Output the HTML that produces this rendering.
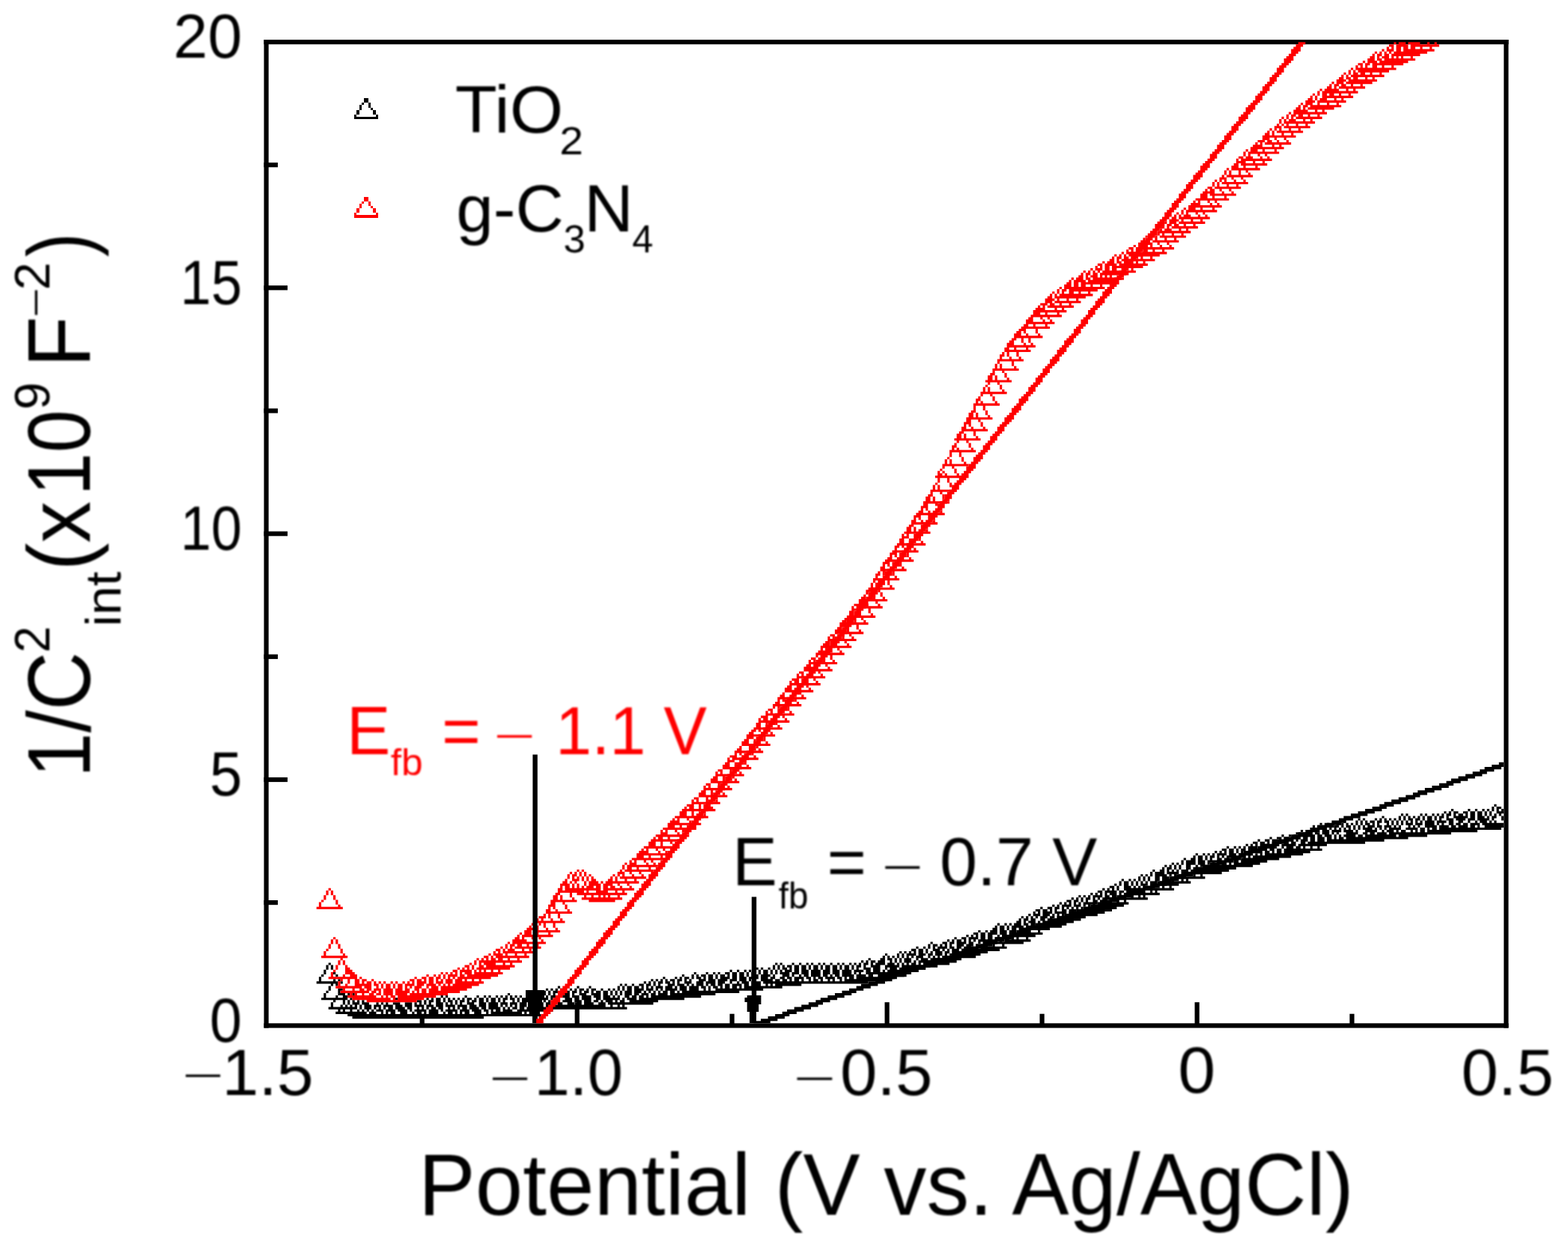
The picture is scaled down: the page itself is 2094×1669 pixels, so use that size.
<!DOCTYPE html>
<html lang="en"><head><meta charset="utf-8"><title>Mott-Schottky plot</title>
<style>html,body{margin:0;padding:0;background:#fff}body{width:2094px;height:1669px;overflow:hidden}svg{display:block}text{font-family:"Liberation Sans",sans-serif}#labels{filter:blur(0.8px)}</style></head><body>
<svg width="2094" height="1669" viewBox="0 0 2094 1669">
<rect width="2094" height="1669" fill="#fff"/>
<g id="shapes">
<g fill="#000">
<rect x="352.5" y="53.0" width="1662.0" height="6.2"/>
<rect x="352.5" y="1366.3" width="1662.0" height="6.2"/>
<rect x="352.5" y="53.0" width="6.2" height="1319.5"/>
<rect x="2008.3" y="53.0" width="6.2" height="1319.5"/>
<rect x="352.5" y="1202.0" width="18.5" height="6.2"/>
<rect x="352.5" y="1037.9" width="31.5" height="6.2"/>
<rect x="352.5" y="873.7" width="18.5" height="6.2"/>
<rect x="352.5" y="709.5" width="31.5" height="6.2"/>
<rect x="352.5" y="545.4" width="18.5" height="6.2"/>
<rect x="352.5" y="381.2" width="31.5" height="6.2"/>
<rect x="352.5" y="217.1" width="18.5" height="6.2"/>
<rect x="560.6" y="1353.7" width="6.2" height="15.8"/>
<rect x="767.6" y="1338.2" width="6.2" height="31.3"/>
<rect x="974.5" y="1353.7" width="6.2" height="15.8"/>
<rect x="1181.5" y="1338.2" width="6.2" height="31.3"/>
<rect x="1388.5" y="1353.7" width="6.2" height="15.8"/>
<rect x="1595.5" y="1338.2" width="6.2" height="31.3"/>
<rect x="1802.4" y="1353.7" width="6.2" height="15.8"/>
</g>
<g transform="translate(1.6 0.2) scale(3.19 3.112)">
<path fill="#000" d="M625 345h1v1h-1zM624 346h1v1h-1zM626 346h2v1h-2zM607 347h1v1h-1zM614 347h1v1h-1zM617 347h1v1h-1zM620 347h1v1h-1zM622 347h1v1h-1zM624 347h1v1h-1zM626 347h1v1h-1zM628 347h1v1h-1zM604 348h1v1h-1zM606 348h1v1h-1zM608 348h2v1h-2zM612 348h2v1h-2zM615 348h2v1h-2zM618 348h2v1h-2zM621 348h1v1h-1zM623 348h1v1h-1zM626 348h3v1h-3zM586 349h1v1h-1zM588 349h1v1h-1zM594 349h1v1h-1zM596 349h1v1h-1zM599 349h1v1h-1zM601 349h1v1h-1zM603 349h1v1h-1zM605 349h2v1h-2zM608 349h1v1h-1zM610 349h2v1h-2zM613 349h1v1h-1zM615 349h2v1h-2zM618 349h2v1h-2zM621 349h1v1h-1zM623 349h1v1h-1zM625 349h1v1h-1zM627 349h1v1h-1zM578 350h1v1h-1zM585 350h1v1h-1zM587 350h1v1h-1zM589 350h1v1h-1zM591 350h1v1h-1zM593 350h1v1h-1zM595 350h1v1h-1zM597 350h2v1h-2zM600 350h1v1h-1zM602 350h2v1h-2zM605 350h1v1h-1zM608 350h6v1h-6zM615 350h2v1h-2zM618 350h3v1h-3zM622 350h1v1h-1zM624 350h2v1h-2zM628 350h1v1h-1zM568 351h1v1h-1zM570 351h1v1h-1zM575 351h1v1h-1zM577 351h1v1h-1zM579 351h1v1h-1zM581 351h1v1h-1zM583 351h1v1h-1zM585 351h1v1h-1zM587 351h1v1h-1zM589 351h2v1h-2zM592 351h2v1h-2zM595 351h1v1h-1zM597 351h2v1h-2zM600 351h1v1h-1zM602 351h1v1h-1zM605 351h3v1h-3zM609 351h4v1h-4zM614 351h3v1h-3zM618 351h5v1h-5zM624 351h1v1h-1zM628 351h1v1h-1zM560 352h1v1h-1zM562 352h1v1h-1zM567 352h1v1h-1zM569 352h1v1h-1zM571 352h1v1h-1zM573 352h2v1h-2zM576 352h2v1h-2zM579 352h2v1h-2zM582 352h1v1h-1zM584 352h1v1h-1zM586 352h1v1h-1zM588 352h1v1h-1zM590 352h1v1h-1zM592 352h1v1h-1zM594 352h1v1h-1zM596 352h4v1h-4zM601 352h4v1h-4zM606 352h2v1h-2zM610 352h2v1h-2zM614 352h1v1h-1zM617 352h1v1h-1zM619 352h3v1h-3zM623 352h1v1h-1zM625 352h1v1h-1zM552 353h1v1h-1zM555 353h1v1h-1zM557 353h1v1h-1zM559 353h1v1h-1zM561 353h1v1h-1zM563 353h1v1h-1zM565 353h1v1h-1zM567 353h1v1h-1zM569 353h1v1h-1zM571 353h2v1h-2zM574 353h1v1h-1zM576 353h1v1h-1zM580 353h1v1h-1zM582 353h1v1h-1zM584 353h1v1h-1zM586 353h1v1h-1zM588 353h3v1h-3zM592 353h3v1h-3zM596 353h4v1h-4zM601 353h1v1h-1zM603 353h1v1h-1zM606 353h2v1h-2zM609 353h2v1h-2zM612 353h2v1h-2zM615 353h4v1h-4zM620 353h9v1h-9zM549 354h1v1h-1zM551 354h1v1h-1zM553 354h2v1h-2zM556 354h1v1h-1zM558 354h2v1h-2zM561 354h1v1h-1zM563 354h2v1h-2zM566 354h1v1h-1zM568 354h1v1h-1zM570 354h1v1h-1zM572 354h3v1h-3zM576 354h2v1h-2zM579 354h3v1h-3zM583 354h1v1h-1zM585 354h1v1h-1zM589 354h1v1h-1zM591 354h1v1h-1zM593 354h1v1h-1zM596 354h5v1h-5zM602 354h4v1h-4zM607 354h2v1h-2zM610 354h4v1h-4zM615 354h2v1h-2zM618 354h1v1h-1zM621 354h8v1h-8zM548 355h1v1h-1zM550 355h2v1h-2zM553 355h2v1h-2zM556 355h1v1h-1zM558 355h1v1h-1zM560 355h1v1h-1zM562 355h1v1h-1zM564 355h1v1h-1zM566 355h1v1h-1zM568 355h1v1h-1zM570 355h4v1h-4zM575 355h1v1h-1zM577 355h1v1h-1zM579 355h1v1h-1zM581 355h5v1h-5zM588 355h5v1h-5zM594 355h2v1h-2zM597 355h1v1h-1zM599 355h2v1h-2zM602 355h26v1h-26zM544 356h1v1h-1zM547 356h2v1h-2zM550 356h1v1h-1zM553 356h3v1h-3zM557 356h4v1h-4zM562 356h4v1h-4zM567 356h1v1h-1zM571 356h5v1h-5zM578 356h1v1h-1zM580 356h3v1h-3zM584 356h1v1h-1zM586 356h2v1h-2zM590 356h1v1h-1zM592 356h1v1h-1zM594 356h2v1h-2zM597 356h21v1h-21zM542 357h2v1h-2zM545 357h4v1h-4zM550 357h2v1h-2zM553 357h3v1h-3zM557 357h1v1h-1zM559 357h1v1h-1zM563 357h5v1h-5zM570 357h2v1h-2zM573 357h2v1h-2zM576 357h4v1h-4zM581 357h26v1h-26zM536 358h1v1h-1zM539 358h1v1h-1zM541 358h1v1h-1zM543 358h1v1h-1zM545 358h5v1h-5zM551 358h2v1h-2zM554 358h3v1h-3zM558 358h1v1h-1zM560 358h1v1h-1zM562 358h5v1h-5zM568 358h2v1h-2zM571 358h13v1h-13zM585 358h12v1h-12zM531 359h1v1h-1zM534 359h2v1h-2zM537 359h2v1h-2zM540 359h4v1h-4zM545 359h2v1h-2zM548 359h2v1h-2zM551 359h3v1h-3zM555 359h2v1h-2zM558 359h1v1h-1zM560 359h2v1h-2zM563 359h26v1h-26zM526 360h1v1h-1zM529 360h2v1h-2zM532 360h2v1h-2zM535 360h1v1h-1zM537 360h2v1h-2zM540 360h1v1h-1zM542 360h1v1h-1zM544 360h3v1h-3zM548 360h2v1h-2zM551 360h3v1h-3zM555 360h24v1h-24zM524 361h2v1h-2zM527 361h2v1h-2zM530 361h1v1h-1zM532 361h4v1h-4zM537 361h2v1h-2zM540 361h2v1h-2zM544 361h2v1h-2zM547 361h24v1h-24zM521 362h1v1h-1zM523 362h1v1h-1zM525 362h1v1h-1zM527 362h4v1h-4zM532 362h3v1h-3zM536 362h6v1h-6zM543 362h12v1h-12zM513 363h1v1h-1zM516 363h1v1h-1zM518 363h1v1h-1zM520 363h1v1h-1zM522 363h4v1h-4zM527 363h3v1h-3zM531 363h3v1h-3zM536 363h1v1h-1zM538 363h3v1h-3zM542 363h2v1h-2zM545 363h1v1h-1zM548 363h1v1h-1zM551 363h1v1h-1zM511 364h2v1h-2zM514 364h2v1h-2zM517 364h1v1h-1zM519 364h2v1h-2zM522 364h1v1h-1zM524 364h1v1h-1zM526 364h3v1h-3zM531 364h2v1h-2zM534 364h2v1h-2zM537 364h16v1h-16zM508 365h1v1h-1zM510 365h1v1h-1zM512 365h1v1h-1zM514 365h2v1h-2zM517 365h1v1h-1zM519 365h1v1h-1zM522 365h2v1h-2zM526 365h2v1h-2zM529 365h2v1h-2zM532 365h1v1h-1zM534 365h2v1h-2zM537 365h11v1h-11zM500 366h1v1h-1zM503 366h1v1h-1zM505 366h1v1h-1zM507 366h1v1h-1zM509 366h4v1h-4zM514 366h3v1h-3zM518 366h6v1h-6zM525 366h1v1h-1zM527 366h1v1h-1zM529 366h16v1h-16zM499 367h1v1h-1zM501 367h2v1h-2zM504 367h1v1h-1zM506 367h2v1h-2zM509 367h1v1h-1zM511 367h1v1h-1zM513 367h4v1h-4zM518 367h1v1h-1zM520 367h1v1h-1zM522 367h1v1h-1zM524 367h16v1h-16zM495 368h1v1h-1zM498 368h2v1h-2zM501 368h2v1h-2zM504 368h1v1h-1zM506 368h1v1h-1zM509 368h2v1h-2zM513 368h1v1h-1zM515 368h3v1h-3zM519 368h16v1h-16zM494 369h1v1h-1zM496 369h4v1h-4zM501 369h3v1h-3zM505 369h6v1h-6zM512 369h1v1h-1zM514 369h1v1h-1zM516 369h2v1h-2zM519 369h11v1h-11zM490 370h1v1h-1zM492 370h1v1h-1zM494 370h1v1h-1zM496 370h4v1h-4zM501 370h3v1h-3zM505 370h1v1h-1zM507 370h1v1h-1zM509 370h1v1h-1zM511 370h2v1h-2zM514 370h1v1h-1zM516 370h11v1h-11zM487 371h1v1h-1zM489 371h1v1h-1zM491 371h1v1h-1zM493 371h1v1h-1zM496 371h2v1h-2zM500 371h1v1h-1zM502 371h3v1h-3zM506 371h18v1h-18zM486 372h1v1h-1zM488 372h2v1h-2zM491 372h1v1h-1zM493 372h1v1h-1zM496 372h2v1h-2zM499 372h3v1h-3zM503 372h2v1h-2zM506 372h11v1h-11zM482 373h1v1h-1zM485 373h2v1h-2zM488 373h1v1h-1zM490 373h1v1h-1zM492 373h1v1h-1zM494 373h3v1h-3zM498 373h2v1h-2zM501 373h1v1h-1zM503 373h11v1h-11zM481 374h1v1h-1zM483 374h4v1h-4zM488 374h5v1h-5zM494 374h17v1h-17zM477 375h1v1h-1zM479 375h1v1h-1zM481 375h1v1h-1zM483 375h5v1h-5zM489 375h1v1h-1zM491 375h1v1h-1zM493 375h3v1h-3zM499 375h1v1h-1zM502 375h1v1h-1zM476 376h1v1h-1zM478 376h1v1h-1zM480 376h1v1h-1zM483 376h2v1h-2zM486 376h3v1h-3zM490 376h14v1h-14zM469 377h1v1h-1zM472 377h1v1h-1zM474 377h1v1h-1zM476 377h1v1h-1zM478 377h1v1h-1zM480 377h1v1h-1zM483 377h2v1h-2zM486 377h3v1h-3zM490 377h1v1h-1zM494 377h1v1h-1zM496 377h1v1h-1zM468 378h1v1h-1zM470 378h2v1h-2zM473 378h1v1h-1zM475 378h1v1h-1zM477 378h1v1h-1zM479 378h1v1h-1zM481 378h3v1h-3zM485 378h13v1h-13zM466 379h1v1h-1zM468 379h1v1h-1zM470 379h2v1h-2zM473 379h1v1h-1zM475 379h1v1h-1zM477 379h3v1h-3zM481 379h12v1h-12zM464 380h2v1h-2zM467 380h1v1h-1zM470 380h3v1h-3zM474 380h1v1h-1zM476 380h1v1h-1zM478 380h1v1h-1zM480 380h3v1h-3zM486 380h1v1h-1zM489 380h1v1h-1zM461 381h1v1h-1zM463 381h1v1h-1zM465 381h1v1h-1zM467 381h1v1h-1zM470 381h21v1h-21zM459 382h2v1h-2zM462 382h5v1h-5zM468 382h2v1h-2zM471 382h3v1h-3zM475 382h1v1h-1zM477 382h1v1h-1zM481 382h1v1h-1zM483 382h1v1h-1zM456 383h1v1h-1zM458 383h1v1h-1zM460 383h1v1h-1zM462 383h1v1h-1zM464 383h3v1h-3zM468 383h1v1h-1zM470 383h1v1h-1zM472 383h13v1h-13zM451 384h1v1h-1zM453 384h1v1h-1zM455 384h1v1h-1zM457 384h4v1h-4zM462 384h2v1h-2zM465 384h2v1h-2zM468 384h3v1h-3zM473 384h1v1h-1zM476 384h1v1h-1zM478 384h1v1h-1zM448 385h1v1h-1zM450 385h1v1h-1zM452 385h1v1h-1zM454 385h2v1h-2zM457 385h1v1h-1zM459 385h1v1h-1zM461 385h19v1h-19zM446 386h2v1h-2zM449 386h2v1h-2zM452 386h1v1h-1zM454 386h1v1h-1zM457 386h2v1h-2zM460 386h3v1h-3zM464 386h1v1h-1zM467 386h1v1h-1zM470 386h1v1h-1zM443 387h1v1h-1zM445 387h1v1h-1zM447 387h1v1h-1zM449 387h1v1h-1zM451 387h1v1h-1zM453 387h6v1h-6zM460 387h12v1h-12zM440 388h1v1h-1zM442 388h1v1h-1zM444 388h4v1h-4zM449 388h3v1h-3zM453 388h1v1h-1zM455 388h1v1h-1zM457 388h1v1h-1zM459 388h11v1h-11zM435 389h1v1h-1zM438 389h2v1h-2zM441 389h2v1h-2zM444 389h1v1h-1zM446 389h1v1h-1zM448 389h1v1h-1zM450 389h1v1h-1zM452 389h1v1h-1zM454 389h13v1h-13zM433 390h2v1h-2zM436 390h2v1h-2zM439 390h1v1h-1zM441 390h1v1h-1zM444 390h2v1h-2zM447 390h3v1h-3zM451 390h2v1h-2zM454 390h11v1h-11zM432 391h1v1h-1zM434 391h1v1h-1zM436 391h4v1h-4zM441 391h5v1h-5zM447 391h1v1h-1zM449 391h1v1h-1zM451 391h11v1h-11zM430 392h1v1h-1zM432 392h3v1h-3zM436 392h3v1h-3zM440 392h1v1h-1zM442 392h1v1h-1zM444 392h1v1h-1zM446 392h13v1h-13zM427 393h1v1h-1zM429 393h1v1h-1zM431 393h1v1h-1zM433 393h1v1h-1zM435 393h3v1h-3zM439 393h2v1h-2zM442 393h12v1h-12zM426 394h1v1h-1zM428 394h2v1h-2zM431 394h2v1h-2zM435 394h2v1h-2zM438 394h2v1h-2zM441 394h11v1h-11zM425 395h2v1h-2zM428 395h1v1h-1zM430 395h3v1h-3zM434 395h1v1h-1zM436 395h1v1h-1zM438 395h11v1h-11zM417 396h1v1h-1zM420 396h1v1h-1zM422 396h1v1h-1zM424 396h3v1h-3zM428 396h2v1h-2zM431 396h2v1h-2zM434 396h12v1h-12zM416 397h1v1h-1zM418 397h2v1h-2zM421 397h1v1h-1zM423 397h5v1h-5zM429 397h15v1h-15zM415 398h2v1h-2zM418 398h2v1h-2zM421 398h1v1h-1zM423 398h2v1h-2zM426 398h13v1h-13zM409 399h1v1h-1zM412 399h1v1h-1zM414 399h3v1h-3zM418 399h3v1h-3zM422 399h3v1h-3zM426 399h2v1h-2zM430 399h1v1h-1zM434 399h1v1h-1zM407 400h2v1h-2zM410 400h2v1h-2zM413 400h4v1h-4zM418 400h3v1h-3zM422 400h14v1h-14zM404 401h1v1h-1zM406 401h1v1h-1zM408 401h1v1h-1zM410 401h2v1h-2zM413 401h2v1h-2zM417 401h1v1h-1zM419 401h14v1h-14zM399 402h1v1h-1zM402 402h2v1h-2zM405 402h4v1h-4zM410 402h2v1h-2zM413 402h2v1h-2zM416 402h3v1h-3zM420 402h2v1h-2zM423 402h1v1h-1zM425 402h1v1h-1zM429 402h1v1h-1zM396 403h1v1h-1zM398 403h1v1h-1zM400 403h2v1h-2zM403 403h1v1h-1zM405 403h1v1h-1zM407 403h1v1h-1zM409 403h6v1h-6zM416 403h1v1h-1zM418 403h1v1h-1zM420 403h11v1h-11zM389 404h1v1h-1zM394 404h2v1h-2zM397 404h2v1h-2zM400 404h4v1h-4zM405 404h2v1h-2zM409 404h1v1h-1zM411 404h17v1h-17zM388 405h1v1h-1zM390 405h2v1h-2zM393 405h1v1h-1zM395 405h1v1h-1zM397 405h1v1h-1zM400 405h3v1h-3zM404 405h3v1h-3zM408 405h1v1h-1zM410 405h3v1h-3zM415 405h1v1h-1zM419 405h1v1h-1zM383 406h1v1h-1zM386 406h1v1h-1zM388 406h1v1h-1zM390 406h1v1h-1zM392 406h4v1h-4zM397 406h2v1h-2zM400 406h2v1h-2zM403 406h3v1h-3zM407 406h2v1h-2zM410 406h11v1h-11zM381 407h2v1h-2zM384 407h2v1h-2zM387 407h1v1h-1zM390 407h3v1h-3zM394 407h1v1h-1zM396 407h1v1h-1zM398 407h3v1h-3zM402 407h16v1h-16zM376 408h1v1h-1zM378 408h1v1h-1zM380 408h1v1h-1zM382 408h1v1h-1zM384 408h2v1h-2zM387 408h1v1h-1zM389 408h1v1h-1zM391 408h3v1h-3zM395 408h2v1h-2zM398 408h3v1h-3zM402 408h11v1h-11zM370 409h1v1h-1zM375 409h1v1h-1zM377 409h1v1h-1zM379 409h4v1h-4zM384 409h3v1h-3zM388 409h2v1h-2zM391 409h3v1h-3zM395 409h1v1h-1zM397 409h13v1h-13zM369 410h1v1h-1zM371 410h1v1h-1zM373 410h1v1h-1zM375 410h1v1h-1zM377 410h1v1h-1zM379 410h1v1h-1zM381 410h1v1h-1zM383 410h3v1h-3zM388 410h1v1h-1zM390 410h1v1h-1zM392 410h1v1h-1zM394 410h14v1h-14zM363 411h1v1h-1zM368 411h2v1h-2zM371 411h2v1h-2zM374 411h1v1h-1zM376 411h1v1h-1zM378 411h3v1h-3zM383 411h1v1h-1zM385 411h3v1h-3zM389 411h13v1h-13zM360 412h1v1h-1zM362 412h1v1h-1zM364 412h2v1h-2zM367 412h3v1h-3zM372 412h1v1h-1zM374 412h1v1h-1zM376 412h1v1h-1zM378 412h3v1h-3zM382 412h1v1h-1zM384 412h16v1h-16zM137 413h1v1h-1zM324 413h1v1h-1zM326 413h1v1h-1zM331 413h1v1h-1zM334 413h1v1h-1zM337 413h1v1h-1zM339 413h1v1h-1zM342 413h1v1h-1zM344 413h1v1h-1zM347 413h1v1h-1zM350 413h1v1h-1zM352 413h1v1h-1zM355 413h1v1h-1zM357 413h1v1h-1zM359 413h1v1h-1zM361 413h2v1h-2zM364 413h1v1h-1zM366 413h4v1h-4zM371 413h3v1h-3zM375 413h1v1h-1zM377 413h1v1h-1zM379 413h1v1h-1zM381 413h2v1h-2zM384 413h1v1h-1zM386 413h11v1h-11zM136 414h1v1h-1zM138 414h1v1h-1zM323 414h1v1h-1zM325 414h1v1h-1zM327 414h1v1h-1zM329 414h2v1h-2zM332 414h2v1h-2zM335 414h2v1h-2zM338 414h1v1h-1zM340 414h2v1h-2zM343 414h1v1h-1zM345 414h2v1h-2zM348 414h2v1h-2zM351 414h1v1h-1zM353 414h2v1h-2zM356 414h1v1h-1zM358 414h2v1h-2zM361 414h1v1h-1zM364 414h4v1h-4zM370 414h6v1h-6zM377 414h15v1h-15zM136 415h1v1h-1zM138 415h1v1h-1zM316 415h1v1h-1zM318 415h1v1h-1zM321 415h1v1h-1zM323 415h1v1h-1zM325 415h1v1h-1zM327 415h2v1h-2zM330 415h1v1h-1zM332 415h2v1h-2zM335 415h2v1h-2zM338 415h1v1h-1zM340 415h2v1h-2zM343 415h1v1h-1zM345 415h2v1h-2zM348 415h2v1h-2zM351 415h1v1h-1zM353 415h2v1h-2zM356 415h1v1h-1zM358 415h1v1h-1zM361 415h3v1h-3zM365 415h3v1h-3zM370 415h1v1h-1zM372 415h3v1h-3zM376 415h11v1h-11zM135 416h1v1h-1zM305 416h1v1h-1zM308 416h1v1h-1zM311 416h1v1h-1zM313 416h1v1h-1zM315 416h1v1h-1zM317 416h1v1h-1zM319 416h2v1h-2zM322 416h1v1h-1zM324 416h1v1h-1zM326 416h1v1h-1zM328 416h3v1h-3zM332 416h2v1h-2zM335 416h3v1h-3zM339 416h4v1h-4zM344 416h3v1h-3zM348 416h3v1h-3zM352 416h4v1h-4zM357 416h4v1h-4zM362 416h2v1h-2zM365 416h3v1h-3zM369 416h1v1h-1zM371 416h13v1h-13zM135 417h1v1h-1zM139 417h1v1h-1zM290 417h1v1h-1zM295 417h1v1h-1zM298 417h1v1h-1zM300 417h1v1h-1zM303 417h2v1h-2zM306 417h2v1h-2zM309 417h2v1h-2zM312 417h1v1h-1zM314 417h2v1h-2zM317 417h1v1h-1zM319 417h2v1h-2zM322 417h1v1h-1zM324 417h1v1h-1zM326 417h4v1h-4zM331 417h3v1h-3zM335 417h3v1h-3zM339 417h4v1h-4zM344 417h3v1h-3zM348 417h3v1h-3zM352 417h4v1h-4zM357 417h1v1h-1zM359 417h1v1h-1zM362 417h14v1h-14zM377 417h1v1h-1zM134 418h1v1h-1zM140 418h1v1h-1zM285 418h1v1h-1zM289 418h1v1h-1zM291 418h1v1h-1zM293 418h2v1h-2zM296 418h2v1h-2zM299 418h1v1h-1zM301 418h2v1h-2zM304 418h1v1h-1zM306 418h2v1h-2zM309 418h2v1h-2zM312 418h1v1h-1zM314 418h1v1h-1zM316 418h1v1h-1zM318 418h4v1h-4zM323 418h1v1h-1zM327 418h3v1h-3zM331 418h1v1h-1zM334 418h1v1h-1zM336 418h2v1h-2zM339 418h4v1h-4zM344 418h2v1h-2zM347 418h1v1h-1zM349 418h2v1h-2zM352 418h5v1h-5zM358 418h4v1h-4zM363 418h2v1h-2zM367 418h12v1h-12zM133 419h1v1h-1zM277 419h1v1h-1zM282 419h1v1h-1zM284 419h1v1h-1zM286 419h2v1h-2zM289 419h1v1h-1zM291 419h2v1h-2zM294 419h1v1h-1zM296 419h2v1h-2zM299 419h1v1h-1zM301 419h4v1h-4zM306 419h2v1h-2zM309 419h3v1h-3zM313 419h4v1h-4zM318 419h3v1h-3zM322 419h2v1h-2zM326 419h2v1h-2zM329 419h2v1h-2zM332 419h4v1h-4zM337 419h2v1h-2zM340 419h1v1h-1zM342 419h2v1h-2zM345 419h4v1h-4zM350 419h2v1h-2zM353 419h1v1h-1zM355 419h2v1h-2zM358 419h16v1h-16zM133 420h1v1h-1zM139 420h1v1h-1zM141 420h1v1h-1zM272 420h1v1h-1zM274 420h1v1h-1zM276 420h1v1h-1zM278 420h1v1h-1zM280 420h2v1h-2zM283 420h2v1h-2zM286 420h1v1h-1zM288 420h1v1h-1zM292 420h3v1h-3zM296 420h3v1h-3zM300 420h4v1h-4zM305 420h3v1h-3zM309 420h3v1h-3zM313 420h1v1h-1zM315 420h1v1h-1zM318 420h5v1h-5zM324 420h2v1h-2zM327 420h2v1h-2zM330 420h1v1h-1zM332 420h2v1h-2zM335 420h1v1h-1zM338 420h1v1h-1zM340 420h2v1h-2zM343 420h1v1h-1zM346 420h1v1h-1zM348 420h1v1h-1zM351 420h1v1h-1zM353 420h18v1h-18zM132 421h9v1h-9zM142 421h1v1h-1zM269 421h1v1h-1zM271 421h1v1h-1zM273 421h1v1h-1zM275 421h2v1h-2zM278 421h2v1h-2zM281 421h1v1h-1zM283 421h1v1h-1zM286 421h3v1h-3zM291 421h3v1h-3zM295 421h4v1h-4zM300 421h3v1h-3zM305 421h1v1h-1zM308 421h1v1h-1zM310 421h3v1h-3zM314 421h1v1h-1zM316 421h2v1h-2zM319 421h44v1h-44zM138 422h1v1h-1zM140 422h1v1h-1zM259 422h1v1h-1zM261 422h1v1h-1zM264 422h1v1h-1zM267 422h2v1h-2zM270 422h2v1h-2zM273 422h1v1h-1zM275 422h1v1h-1zM279 422h3v1h-3zM283 422h3v1h-3zM287 422h1v1h-1zM289 422h1v1h-1zM291 422h3v1h-3zM295 422h1v1h-1zM297 422h2v1h-2zM300 422h2v1h-2zM303 422h2v1h-2zM306 422h4v1h-4zM311 422h2v1h-2zM314 422h1v1h-1zM316 422h2v1h-2zM320 422h1v1h-1zM322 422h1v1h-1zM324 422h11v1h-11zM137 423h1v1h-1zM233 423h1v1h-1zM241 423h1v1h-1zM246 423h1v1h-1zM258 423h1v1h-1zM260 423h1v1h-1zM262 423h2v1h-2zM265 423h2v1h-2zM268 423h1v1h-1zM270 423h1v1h-1zM272 423h1v1h-1zM274 423h3v1h-3zM278 423h3v1h-3zM282 423h1v1h-1zM284 423h3v1h-3zM288 423h4v1h-4zM293 423h2v1h-2zM296 423h1v1h-1zM298 423h2v1h-2zM301 423h1v1h-1zM303 423h2v1h-2zM306 423h2v1h-2zM309 423h1v1h-1zM311 423h16v1h-16zM137 424h1v1h-1zM141 424h2v1h-2zM228 424h1v1h-1zM230 424h1v1h-1zM232 424h1v1h-1zM234 424h2v1h-2zM238 424h1v1h-1zM240 424h1v1h-1zM242 424h2v1h-2zM245 424h1v1h-1zM247 424h2v1h-2zM251 424h1v1h-1zM254 424h1v1h-1zM256 424h1v1h-1zM258 424h1v1h-1zM260 424h1v1h-1zM262 424h2v1h-2zM265 424h4v1h-4zM270 424h3v1h-3zM274 424h1v1h-1zM276 424h1v1h-1zM278 424h5v1h-5zM284 424h3v1h-3zM288 424h4v1h-4zM294 424h1v1h-1zM296 424h1v1h-1zM299 424h20v1h-20zM136 425h1v1h-1zM141 425h1v1h-1zM222 425h1v1h-1zM225 425h1v1h-1zM227 425h1v1h-1zM229 425h1v1h-1zM231 425h2v1h-2zM234 425h1v1h-1zM236 425h2v1h-2zM239 425h2v1h-2zM242 425h1v1h-1zM244 425h2v1h-2zM247 425h1v1h-1zM249 425h2v1h-2zM252 425h2v1h-2zM255 425h1v1h-1zM257 425h1v1h-1zM259 425h1v1h-1zM261 425h3v1h-3zM265 425h3v1h-3zM269 425h1v1h-1zM271 425h1v1h-1zM273 425h1v1h-1zM275 425h1v1h-1zM277 425h2v1h-2zM280 425h2v1h-2zM283 425h1v1h-1zM285 425h24v1h-24zM135 426h1v1h-1zM141 426h3v1h-3zM145 426h1v1h-1zM147 426h1v1h-1zM212 426h1v1h-1zM221 426h1v1h-1zM223 426h2v1h-2zM226 426h2v1h-2zM229 426h1v1h-1zM231 426h1v1h-1zM234 426h4v1h-4zM239 426h1v1h-1zM242 426h3v1h-3zM247 426h4v1h-4zM252 426h2v1h-2zM255 426h1v1h-1zM257 426h1v1h-1zM259 426h1v1h-1zM261 426h3v1h-3zM265 426h2v1h-2zM268 426h3v1h-3zM272 426h2v1h-2zM275 426h4v1h-4zM280 426h19v1h-19zM135 427h1v1h-1zM140 427h1v1h-1zM143 427h2v1h-2zM184 427h1v1h-1zM186 427h1v1h-1zM194 427h1v1h-1zM199 427h1v1h-1zM202 427h1v1h-1zM204 427h1v1h-1zM207 427h1v1h-1zM209 427h1v1h-1zM211 427h1v1h-1zM213 427h1v1h-1zM215 427h1v1h-1zM217 427h1v1h-1zM220 427h2v1h-2zM223 427h2v1h-2zM226 427h1v1h-1zM228 427h1v1h-1zM230 427h4v1h-4zM235 427h3v1h-3zM239 427h3v1h-3zM243 427h4v1h-4zM248 427h3v1h-3zM252 427h3v1h-3zM256 427h1v1h-1zM258 427h1v1h-1zM261 427h2v1h-2zM264 427h2v1h-2zM267 427h2v1h-2zM270 427h1v1h-1zM272 427h21v1h-21zM134 428h11v1h-11zM146 428h1v1h-1zM165 428h1v1h-1zM178 428h1v1h-1zM180 428h1v1h-1zM182 428h2v1h-2zM185 428h1v1h-1zM187 428h1v1h-1zM189 428h1v1h-1zM191 428h1v1h-1zM193 428h1v1h-1zM195 428h2v1h-2zM198 428h1v1h-1zM200 428h2v1h-2zM203 428h1v1h-1zM205 428h2v1h-2zM208 428h1v1h-1zM210 428h2v1h-2zM213 428h2v1h-2zM216 428h1v1h-1zM218 428h4v1h-4zM223 428h2v1h-2zM226 428h3v1h-3zM230 428h1v1h-1zM232 428h2v1h-2zM236 428h3v1h-3zM240 428h2v1h-2zM243 428h4v1h-4zM249 428h2v1h-2zM252 428h7v1h-7zM260 428h1v1h-1zM262 428h4v1h-4zM267 428h19v1h-19zM139 429h1v1h-1zM143 429h1v1h-1zM145 429h1v1h-1zM147 429h1v1h-1zM149 429h1v1h-1zM151 429h1v1h-1zM174 429h2v1h-2zM177 429h1v1h-1zM179 429h2v1h-2zM182 429h2v1h-2zM185 429h1v1h-1zM187 429h2v1h-2zM190 429h1v1h-1zM192 429h2v1h-2zM195 429h1v1h-1zM197 429h2v1h-2zM200 429h2v1h-2zM203 429h1v1h-1zM205 429h2v1h-2zM208 429h1v1h-1zM210 429h1v1h-1zM214 429h1v1h-1zM216 429h1v1h-1zM218 429h4v1h-4zM223 429h3v1h-3zM227 429h1v1h-1zM229 429h1v1h-1zM231 429h3v1h-3zM235 429h4v1h-4zM240 429h3v1h-3zM244 429h3v1h-3zM248 429h2v1h-2zM251 429h1v1h-1zM253 429h3v1h-3zM257 429h1v1h-1zM259 429h2v1h-2zM263 429h12v1h-12zM138 430h1v1h-1zM143 430h1v1h-1zM145 430h1v1h-1zM147 430h3v1h-3zM151 430h3v1h-3zM157 430h1v1h-1zM159 430h1v1h-1zM161 430h1v1h-1zM164 430h3v1h-3zM169 430h3v1h-3zM173 430h1v1h-1zM175 430h1v1h-1zM177 430h1v1h-1zM179 430h1v1h-1zM182 430h3v1h-3zM186 430h1v1h-1zM188 430h1v1h-1zM190 430h1v1h-1zM192 430h1v1h-1zM195 430h3v1h-3zM200 430h3v1h-3zM204 430h4v1h-4zM209 430h3v1h-3zM213 430h3v1h-3zM217 430h3v1h-3zM222 430h1v1h-1zM224 430h3v1h-3zM228 430h2v1h-2zM231 430h1v1h-1zM233 430h2v1h-2zM237 430h3v1h-3zM241 430h2v1h-2zM244 430h4v1h-4zM250 430h3v1h-3zM254 430h19v1h-19zM138 431h1v1h-1zM142 431h1v1h-1zM144 431h1v1h-1zM146 431h1v1h-1zM148 431h1v1h-1zM150 431h1v1h-1zM152 431h3v1h-3zM156 431h3v1h-3zM160 431h4v1h-4zM165 431h3v1h-3zM169 431h3v1h-3zM173 431h4v1h-4zM178 431h3v1h-3zM182 431h3v1h-3zM186 431h4v1h-4zM191 431h4v1h-4zM196 431h3v1h-3zM200 431h3v1h-3zM204 431h4v1h-4zM209 431h1v1h-1zM211 431h1v1h-1zM213 431h1v1h-1zM215 431h1v1h-1zM217 431h3v1h-3zM221 431h2v1h-2zM224 431h3v1h-3zM228 431h25v1h-25zM255 431h1v1h-1zM258 431h1v1h-1zM260 431h1v1h-1zM137 432h12v1h-12zM150 432h1v1h-1zM152 432h3v1h-3zM156 432h1v1h-1zM158 432h1v1h-1zM160 432h1v1h-1zM162 432h2v1h-2zM165 432h4v1h-4zM170 432h2v1h-2zM174 432h1v1h-1zM176 432h1v1h-1zM178 432h1v1h-1zM180 432h2v1h-2zM183 432h2v1h-2zM187 432h1v1h-1zM189 432h1v1h-1zM191 432h1v1h-1zM193 432h2v1h-2zM196 432h4v1h-4zM201 432h2v1h-2zM204 432h5v1h-5zM210 432h1v1h-1zM212 432h1v1h-1zM214 432h2v1h-2zM217 432h2v1h-2zM220 432h2v1h-2zM223 432h39v1h-39zM141 433h1v1h-1zM143 433h1v1h-1zM146 433h1v1h-1zM149 433h1v1h-1zM151 433h1v1h-1zM153 433h1v1h-1zM155 433h1v1h-1zM157 433h3v1h-3zM161 433h4v1h-4zM166 433h4v1h-4zM171 433h1v1h-1zM173 433h5v1h-5zM179 433h4v1h-4zM184 433h1v1h-1zM186 433h5v1h-5zM192 433h4v1h-4zM197 433h4v1h-4zM202 433h2v1h-2zM205 433h1v1h-1zM207 433h2v1h-2zM210 433h4v1h-4zM216 433h15v1h-15zM140 434h13v1h-13zM154 434h3v1h-3zM159 434h1v1h-1zM161 434h1v1h-1zM163 434h2v1h-2zM167 434h3v1h-3zM172 434h1v1h-1zM174 434h2v1h-2zM177 434h1v1h-1zM179 434h4v1h-4zM185 434h1v1h-1zM187 434h2v1h-2zM190 434h1v1h-1zM192 434h1v1h-1zM194 434h2v1h-2zM198 434h3v1h-3zM203 434h1v1h-1zM205 434h13v1h-13zM219 434h1v1h-1zM221 434h1v1h-1zM224 434h1v1h-1zM145 435h81v1h-81zM147 436h55v1h-55z"/>
<path fill="#f00" d="M583 18h1v1h-1zM585 18h3v1h-3zM589 18h5v1h-5zM597 18h1v1h-1zM600 18h1v1h-1zM581 19h2v1h-2zM584 19h5v1h-5zM590 19h12v1h-12zM580 20h1v1h-1zM582 20h1v1h-1zM584 20h2v1h-2zM587 20h2v1h-2zM590 20h2v1h-2zM594 20h1v1h-1zM598 20h1v1h-1zM578 21h1v1h-1zM580 21h3v1h-3zM584 21h2v1h-2zM587 21h13v1h-13zM575 22h1v1h-1zM577 22h1v1h-1zM579 22h1v1h-1zM581 22h1v1h-1zM583 22h14v1h-14zM574 23h1v1h-1zM576 23h2v1h-2zM579 23h2v1h-2zM582 23h12v1h-12zM573 24h2v1h-2zM576 24h1v1h-1zM578 24h3v1h-3zM582 24h1v1h-1zM584 24h1v1h-1zM586 24h1v1h-1zM590 24h1v1h-1zM572 25h3v1h-3zM576 25h2v1h-2zM579 25h13v1h-13zM570 26h1v1h-1zM572 26h4v1h-4zM577 26h12v1h-12zM568 27h2v1h-2zM571 27h2v1h-2zM574 27h13v1h-13zM567 28h1v1h-1zM569 28h1v1h-1zM571 28h1v1h-1zM574 28h2v1h-2zM578 28h1v1h-1zM582 28h1v1h-1zM565 29h1v1h-1zM567 29h17v1h-17zM564 30h1v1h-1zM566 30h1v1h-1zM568 30h13v1h-13zM562 31h1v1h-1zM564 31h1v1h-1zM566 31h2v1h-2zM569 31h2v1h-2zM573 31h1v1h-1zM577 31h1v1h-1zM561 32h1v1h-1zM563 32h1v1h-1zM565 32h14v1h-14zM560 33h2v1h-2zM563 33h2v1h-2zM566 33h2v1h-2zM571 33h1v1h-1zM574 33h1v1h-1zM559 34h4v1h-4zM564 34h12v1h-12zM557 35h1v1h-1zM559 35h3v1h-3zM563 35h11v1h-11zM556 36h1v1h-1zM558 36h2v1h-2zM561 36h2v1h-2zM565 36h1v1h-1zM569 36h1v1h-1zM555 37h2v1h-2zM558 37h1v1h-1zM560 37h11v1h-11zM552 38h1v1h-1zM554 38h6v1h-6zM563 38h1v1h-1zM566 38h1v1h-1zM551 39h1v1h-1zM553 39h15v1h-15zM549 40h1v1h-1zM551 40h1v1h-1zM553 40h2v1h-2zM556 40h2v1h-2zM560 40h1v1h-1zM564 40h1v1h-1zM548 41h1v1h-1zM550 41h1v1h-1zM553 41h13v1h-13zM547 42h2v1h-2zM550 42h1v1h-1zM552 42h3v1h-3zM558 42h1v1h-1zM561 42h1v1h-1zM546 43h4v1h-4zM551 43h12v1h-12zM544 44h1v1h-1zM546 44h3v1h-3zM551 44h1v1h-1zM555 44h1v1h-1zM559 44h1v1h-1zM543 45h1v1h-1zM545 45h2v1h-2zM548 45h13v1h-13zM542 46h2v1h-2zM545 46h1v1h-1zM547 46h11v1h-11zM541 47h6v1h-6zM550 47h1v1h-1zM553 47h1v1h-1zM539 48h1v1h-1zM541 48h14v1h-14zM538 49h1v1h-1zM540 49h2v1h-2zM543 49h2v1h-2zM547 49h1v1h-1zM551 49h1v1h-1zM536 50h1v1h-1zM538 50h1v1h-1zM540 50h1v1h-1zM542 50h11v1h-11zM535 51h1v1h-1zM537 51h1v1h-1zM539 51h3v1h-3zM545 51h1v1h-1zM548 51h1v1h-1zM535 52h1v1h-1zM537 52h13v1h-13zM534 53h1v1h-1zM536 53h1v1h-1zM538 53h1v1h-1zM542 53h1v1h-1zM546 53h1v1h-1zM533 54h3v1h-3zM537 54h11v1h-11zM531 55h1v1h-1zM533 55h1v1h-1zM535 55h1v1h-1zM539 55h1v1h-1zM543 55h1v1h-1zM530 56h1v1h-1zM532 56h1v1h-1zM534 56h11v1h-11zM529 57h2v1h-2zM532 57h1v1h-1zM536 57h1v1h-1zM540 57h1v1h-1zM528 58h14v1h-14zM528 59h3v1h-3zM533 59h1v1h-1zM537 59h1v1h-1zM526 60h3v1h-3zM530 60h2v1h-2zM534 60h1v1h-1zM538 60h1v1h-1zM525 61h1v1h-1zM527 61h1v1h-1zM529 61h11v1h-11zM524 62h4v1h-4zM532 62h1v1h-1zM535 62h1v1h-1zM523 63h14v1h-14zM521 64h1v1h-1zM523 64h3v1h-3zM528 64h1v1h-1zM533 64h1v1h-1zM520 65h1v1h-1zM522 65h13v1h-13zM520 66h1v1h-1zM522 66h1v1h-1zM526 66h1v1h-1zM529 66h1v1h-1zM518 67h2v1h-2zM521 67h3v1h-3zM527 67h1v1h-1zM530 67h1v1h-1zM517 68h1v1h-1zM519 68h13v1h-13zM517 69h4v1h-4zM524 69h1v1h-1zM528 69h1v1h-1zM516 70h2v1h-2zM519 70h11v1h-11zM515 71h3v1h-3zM520 71h1v1h-1zM525 71h1v1h-1zM513 72h1v1h-1zM515 72h12v1h-12zM512 73h1v1h-1zM514 73h1v1h-1zM518 73h1v1h-1zM521 73h1v1h-1zM512 74h1v1h-1zM514 74h1v1h-1zM518 74h1v1h-1zM522 74h1v1h-1zM511 75h1v1h-1zM513 75h11v1h-11zM510 76h3v1h-3zM515 76h1v1h-1zM519 76h1v1h-1zM508 77h1v1h-1zM510 77h1v1h-1zM512 77h1v1h-1zM516 77h1v1h-1zM520 77h1v1h-1zM507 78h1v1h-1zM509 78h1v1h-1zM511 78h11v1h-11zM507 79h1v1h-1zM509 79h1v1h-1zM513 79h1v1h-1zM517 79h1v1h-1zM505 80h2v1h-2zM508 80h11v1h-11zM504 81h1v1h-1zM506 81h2v1h-2zM510 81h1v1h-1zM514 81h1v1h-1zM503 82h5v1h-5zM511 82h1v1h-1zM515 82h1v1h-1zM502 83h3v1h-3zM506 83h11v1h-11zM502 84h3v1h-3zM507 84h1v1h-1zM512 84h1v1h-1zM500 85h14v1h-14zM499 86h1v1h-1zM501 86h1v1h-1zM505 86h1v1h-1zM508 86h1v1h-1zM498 87h4v1h-4zM506 87h1v1h-1zM509 87h1v1h-1zM497 88h14v1h-14zM495 89h1v1h-1zM497 89h3v1h-3zM502 89h1v1h-1zM507 89h1v1h-1zM494 90h1v1h-1zM496 90h13v1h-13zM492 91h1v1h-1zM494 91h1v1h-1zM496 91h1v1h-1zM500 91h1v1h-1zM503 91h1v1h-1zM491 92h1v1h-1zM493 92h1v1h-1zM495 92h3v1h-3zM501 92h1v1h-1zM504 92h1v1h-1zM490 93h2v1h-2zM493 93h13v1h-13zM489 94h4v1h-4zM494 94h1v1h-1zM498 94h1v1h-1zM502 94h1v1h-1zM487 95h1v1h-1zM489 95h3v1h-3zM493 95h11v1h-11zM486 96h1v1h-1zM488 96h2v1h-2zM491 96h2v1h-2zM495 96h1v1h-1zM499 96h1v1h-1zM486 97h1v1h-1zM488 97h1v1h-1zM490 97h11v1h-11zM485 98h1v1h-1zM487 98h3v1h-3zM493 98h1v1h-1zM496 98h1v1h-1zM484 99h14v1h-14zM482 100h1v1h-1zM484 100h1v1h-1zM486 100h1v1h-1zM490 100h1v1h-1zM494 100h1v1h-1zM479 101h1v1h-1zM481 101h1v1h-1zM483 101h1v1h-1zM485 101h11v1h-11zM478 102h1v1h-1zM480 102h2v1h-2zM483 102h1v1h-1zM487 102h1v1h-1zM491 102h1v1h-1zM477 103h2v1h-2zM480 103h1v1h-1zM482 103h11v1h-11zM476 104h3v1h-3zM480 104h2v1h-2zM484 104h1v1h-1zM488 104h1v1h-1zM474 105h1v1h-1zM476 105h4v1h-4zM481 105h1v1h-1zM485 105h1v1h-1zM489 105h1v1h-1zM472 106h2v1h-2zM475 106h2v1h-2zM478 106h13v1h-13zM471 107h1v1h-1zM473 107h1v1h-1zM475 107h1v1h-1zM478 107h2v1h-2zM482 107h1v1h-1zM486 107h1v1h-1zM469 108h1v1h-1zM471 108h17v1h-17zM466 109h1v1h-1zM468 109h1v1h-1zM470 109h1v1h-1zM472 109h13v1h-13zM465 110h1v1h-1zM467 110h2v1h-2zM470 110h2v1h-2zM473 110h2v1h-2zM477 110h1v1h-1zM481 110h1v1h-1zM464 111h2v1h-2zM467 111h1v1h-1zM469 111h14v1h-14zM461 112h1v1h-1zM463 112h3v1h-3zM467 112h2v1h-2zM470 112h2v1h-2zM475 112h1v1h-1zM478 112h1v1h-1zM459 113h2v1h-2zM462 113h5v1h-5zM468 113h12v1h-12zM458 114h1v1h-1zM460 114h1v1h-1zM462 114h2v1h-2zM465 114h13v1h-13zM456 115h1v1h-1zM458 115h3v1h-3zM462 115h2v1h-2zM465 115h2v1h-2zM469 115h1v1h-1zM473 115h1v1h-1zM453 116h1v1h-1zM455 116h1v1h-1zM457 116h1v1h-1zM459 116h1v1h-1zM461 116h14v1h-14zM452 117h1v1h-1zM454 117h2v1h-2zM457 117h2v1h-2zM460 117h12v1h-12zM451 118h2v1h-2zM454 118h1v1h-1zM456 118h3v1h-3zM460 118h1v1h-1zM462 118h1v1h-1zM464 118h1v1h-1zM468 118h1v1h-1zM448 119h1v1h-1zM450 119h3v1h-3zM454 119h2v1h-2zM457 119h13v1h-13zM447 120h1v1h-1zM449 120h5v1h-5zM455 120h12v1h-12zM446 121h2v1h-2zM449 121h2v1h-2zM452 121h13v1h-13zM445 122h3v1h-3zM449 122h2v1h-2zM452 122h2v1h-2zM456 122h1v1h-1zM460 122h1v1h-1zM443 123h1v1h-1zM445 123h17v1h-17zM442 124h1v1h-1zM444 124h2v1h-2zM447 124h12v1h-12zM440 125h1v1h-1zM442 125h1v1h-1zM444 125h1v1h-1zM447 125h2v1h-2zM451 125h1v1h-1zM455 125h1v1h-1zM439 126h1v1h-1zM441 126h1v1h-1zM443 126h14v1h-14zM438 127h2v1h-2zM441 127h13v1h-13zM437 128h4v1h-4zM442 128h1v1h-1zM446 128h1v1h-1zM450 128h1v1h-1zM437 129h3v1h-3zM441 129h11v1h-11zM435 130h3v1h-3zM439 130h2v1h-2zM443 130h1v1h-1zM447 130h1v1h-1zM434 131h1v1h-1zM436 131h1v1h-1zM438 131h11v1h-11zM433 132h4v1h-4zM441 132h1v1h-1zM444 132h1v1h-1zM432 133h14v1h-14zM432 134h3v1h-3zM437 134h1v1h-1zM442 134h1v1h-1zM431 135h13v1h-13zM430 136h2v1h-2zM435 136h1v1h-1zM438 136h1v1h-1zM429 137h3v1h-3zM436 137h1v1h-1zM439 137h1v1h-1zM429 138h12v1h-12zM428 139h2v1h-2zM432 139h1v1h-1zM437 139h1v1h-1zM427 140h12v1h-12zM426 141h3v1h-3zM433 141h1v1h-1zM425 142h2v1h-2zM428 142h1v1h-1zM433 142h1v1h-1zM424 143h3v1h-3zM429 143h1v1h-1zM434 143h1v1h-1zM424 144h12v1h-12zM423 145h2v1h-2zM427 145h1v1h-1zM430 145h1v1h-1zM422 146h2v1h-2zM427 146h1v1h-1zM430 146h1v1h-1zM421 147h3v1h-3zM428 147h1v1h-1zM431 147h1v1h-1zM421 148h12v1h-12zM420 149h2v1h-2zM424 149h1v1h-1zM429 149h1v1h-1zM420 150h11v1h-11zM419 151h1v1h-1zM421 151h1v1h-1zM425 151h1v1h-1zM418 152h2v1h-2zM421 152h1v1h-1zM425 152h1v1h-1zM418 153h1v1h-1zM422 153h1v1h-1zM426 153h1v1h-1zM417 154h11v1h-11zM417 155h1v1h-1zM423 155h1v1h-1zM416 156h1v1h-1zM418 156h1v1h-1zM423 156h1v1h-1zM416 157h1v1h-1zM418 157h1v1h-1zM424 157h1v1h-1zM415 158h11v1h-11zM415 159h1v1h-1zM419 159h1v1h-1zM414 160h2v1h-2zM420 160h1v1h-1zM413 161h2v1h-2zM416 161h1v1h-1zM420 161h1v1h-1zM413 162h2v1h-2zM416 162h1v1h-1zM421 162h1v1h-1zM412 163h11v1h-11zM413 164h1v1h-1zM417 164h1v1h-1zM412 165h1v1h-1zM418 165h1v1h-1zM411 166h1v1h-1zM413 166h1v1h-1zM418 166h1v1h-1zM411 167h1v1h-1zM413 167h1v1h-1zM419 167h1v1h-1zM410 168h11v1h-11zM410 169h1v1h-1zM414 169h1v1h-1zM409 170h1v1h-1zM415 170h1v1h-1zM408 171h2v1h-2zM415 171h1v1h-1zM408 172h1v1h-1zM410 172h1v1h-1zM416 172h1v1h-1zM407 173h11v1h-11zM407 174h1v1h-1zM411 174h1v1h-1zM407 175h1v1h-1zM411 175h1v1h-1zM406 176h2v1h-2zM412 176h1v1h-1zM405 177h2v1h-2zM408 177h1v1h-1zM412 177h1v1h-1zM405 178h2v1h-2zM408 178h1v1h-1zM413 178h1v1h-1zM404 179h11v1h-11zM404 180h2v1h-2zM409 180h1v1h-1zM403 181h3v1h-3zM410 181h1v1h-1zM403 182h1v1h-1zM405 182h1v1h-1zM410 182h1v1h-1zM402 183h2v1h-2zM406 183h1v1h-1zM411 183h1v1h-1zM402 184h11v1h-11zM401 185h2v1h-2zM407 185h1v1h-1zM400 186h2v1h-2zM403 186h1v1h-1zM407 186h1v1h-1zM400 187h2v1h-2zM403 187h1v1h-1zM408 187h1v1h-1zM399 188h11v1h-11zM400 189h1v1h-1zM404 189h1v1h-1zM399 190h1v1h-1zM405 190h1v1h-1zM398 191h2v1h-2zM405 191h1v1h-1zM398 192h1v1h-1zM400 192h1v1h-1zM406 192h1v1h-1zM397 193h11v1h-11zM397 194h1v1h-1zM401 194h1v1h-1zM397 195h1v1h-1zM401 195h1v1h-1zM396 196h1v1h-1zM402 196h1v1h-1zM395 197h1v1h-1zM397 197h1v1h-1zM402 197h1v1h-1zM395 198h1v1h-1zM397 198h1v1h-1zM403 198h1v1h-1zM394 199h11v1h-11zM394 200h1v1h-1zM398 200h1v1h-1zM393 201h1v1h-1zM399 201h1v1h-1zM392 202h1v1h-1zM394 202h1v1h-1zM399 202h1v1h-1zM392 203h2v1h-2zM395 203h1v1h-1zM400 203h1v1h-1zM391 204h11v1h-11zM392 205h1v1h-1zM396 205h1v1h-1zM392 206h1v1h-1zM396 206h1v1h-1zM391 207h1v1h-1zM397 207h1v1h-1zM390 208h1v1h-1zM392 208h1v1h-1zM397 208h1v1h-1zM390 209h1v1h-1zM392 209h1v1h-1zM398 209h1v1h-1zM389 210h11v1h-11zM389 211h1v1h-1zM393 211h1v1h-1zM388 212h2v1h-2zM394 212h1v1h-1zM387 213h2v1h-2zM390 213h1v1h-1zM394 213h1v1h-1zM387 214h2v1h-2zM390 214h1v1h-1zM395 214h1v1h-1zM386 215h11v1h-11zM386 216h2v1h-2zM391 216h1v1h-1zM385 217h3v1h-3zM392 217h1v1h-1zM385 218h1v1h-1zM387 218h1v1h-1zM392 218h1v1h-1zM384 219h2v1h-2zM388 219h1v1h-1zM393 219h1v1h-1zM383 220h12v1h-12zM382 221h3v1h-3zM389 221h1v1h-1zM382 222h1v1h-1zM384 222h1v1h-1zM389 222h1v1h-1zM381 223h2v1h-2zM385 223h1v1h-1zM390 223h1v1h-1zM381 224h11v1h-11zM380 225h2v1h-2zM386 225h1v1h-1zM379 226h2v1h-2zM382 226h1v1h-1zM386 226h1v1h-1zM379 227h2v1h-2zM382 227h1v1h-1zM387 227h1v1h-1zM378 228h11v1h-11zM377 229h1v1h-1zM379 229h1v1h-1zM383 229h1v1h-1zM377 230h3v1h-3zM384 230h1v1h-1zM376 231h2v1h-2zM380 231h1v1h-1zM384 231h1v1h-1zM376 232h2v1h-2zM380 232h1v1h-1zM385 232h1v1h-1zM375 233h12v1h-12zM374 234h2v1h-2zM377 234h1v1h-1zM381 234h1v1h-1zM374 235h1v1h-1zM378 235h1v1h-1zM382 235h1v1h-1zM373 236h11v1h-11zM372 237h3v1h-3zM379 237h1v1h-1zM372 238h1v1h-1zM374 238h1v1h-1zM379 238h1v1h-1zM371 239h2v1h-2zM375 239h1v1h-1zM380 239h1v1h-1zM370 240h12v1h-12zM369 241h3v1h-3zM376 241h1v1h-1zM369 242h1v1h-1zM371 242h1v1h-1zM376 242h1v1h-1zM368 243h2v1h-2zM372 243h1v1h-1zM377 243h1v1h-1zM368 244h11v1h-11zM367 245h1v1h-1zM369 245h1v1h-1zM373 245h1v1h-1zM366 246h2v1h-2zM369 246h1v1h-1zM373 246h1v1h-1zM366 247h1v1h-1zM370 247h1v1h-1zM374 247h1v1h-1zM365 248h11v1h-11zM365 249h1v1h-1zM371 249h1v1h-1zM364 250h1v1h-1zM366 250h1v1h-1zM371 250h1v1h-1zM364 251h1v1h-1zM366 251h1v1h-1zM372 251h1v1h-1zM363 252h11v1h-11zM362 253h3v1h-3zM367 253h1v1h-1zM362 254h1v1h-1zM364 254h1v1h-1zM368 254h1v1h-1zM361 255h1v1h-1zM365 255h1v1h-1zM368 255h1v1h-1zM360 256h2v1h-2zM365 256h1v1h-1zM369 256h1v1h-1zM359 257h12v1h-12zM359 258h1v1h-1zM361 258h1v1h-1zM366 258h1v1h-1zM357 259h3v1h-3zM362 259h1v1h-1zM367 259h1v1h-1zM356 260h1v1h-1zM358 260h11v1h-11zM356 261h3v1h-3zM363 261h1v1h-1zM355 262h2v1h-2zM359 262h1v1h-1zM363 262h1v1h-1zM355 263h2v1h-2zM359 263h1v1h-1zM364 263h1v1h-1zM354 264h12v1h-12zM353 265h2v1h-2zM356 265h1v1h-1zM360 265h1v1h-1zM352 266h2v1h-2zM357 266h1v1h-1zM361 266h1v1h-1zM351 267h12v1h-12zM351 268h3v1h-3zM358 268h1v1h-1zM350 269h2v1h-2zM354 269h1v1h-1zM358 269h1v1h-1zM349 270h3v1h-3zM354 270h1v1h-1zM359 270h1v1h-1zM349 271h12v1h-12zM347 272h2v1h-2zM352 272h1v1h-1zM355 272h1v1h-1zM346 273h1v1h-1zM348 273h1v1h-1zM352 273h1v1h-1zM356 273h1v1h-1zM346 274h12v1h-12zM345 275h2v1h-2zM349 275h1v1h-1zM353 275h1v1h-1zM344 276h3v1h-3zM349 276h1v1h-1zM354 276h1v1h-1zM343 277h13v1h-13zM343 278h1v1h-1zM345 278h1v1h-1zM350 278h1v1h-1zM342 279h2v1h-2zM346 279h1v1h-1zM351 279h1v1h-1zM341 280h12v1h-12zM341 281h1v1h-1zM343 281h1v1h-1zM347 281h1v1h-1zM339 282h2v1h-2zM344 282h1v1h-1zM347 282h1v1h-1zM338 283h1v1h-1zM340 283h1v1h-1zM344 283h1v1h-1zM348 283h1v1h-1zM338 284h12v1h-12zM337 285h2v1h-2zM341 285h1v1h-1zM345 285h1v1h-1zM336 286h3v1h-3zM341 286h1v1h-1zM346 286h1v1h-1zM336 287h12v1h-12zM334 288h2v1h-2zM339 288h1v1h-1zM342 288h1v1h-1zM333 289h1v1h-1zM335 289h1v1h-1zM339 289h1v1h-1zM343 289h1v1h-1zM333 290h12v1h-12zM331 291h3v1h-3zM336 291h1v1h-1zM340 291h1v1h-1zM330 292h1v1h-1zM332 292h2v1h-2zM336 292h1v1h-1zM341 292h1v1h-1zM330 293h13v1h-13zM329 294h2v1h-2zM333 294h1v1h-1zM337 294h1v1h-1zM328 295h3v1h-3zM333 295h1v1h-1zM338 295h1v1h-1zM328 296h12v1h-12zM327 297h1v1h-1zM331 297h1v1h-1zM334 297h1v1h-1zM326 298h2v1h-2zM331 298h1v1h-1zM335 298h1v1h-1zM325 299h12v1h-12zM325 300h1v1h-1zM327 300h1v1h-1zM332 300h1v1h-1zM324 301h2v1h-2zM328 301h1v1h-1zM333 301h1v1h-1zM323 302h12v1h-12zM323 303h1v1h-1zM325 303h1v1h-1zM329 303h1v1h-1zM321 304h2v1h-2zM326 304h1v1h-1zM329 304h1v1h-1zM320 305h1v1h-1zM322 305h1v1h-1zM326 305h1v1h-1zM330 305h1v1h-1zM320 306h12v1h-12zM318 307h3v1h-3zM323 307h1v1h-1zM327 307h1v1h-1zM317 308h1v1h-1zM319 308h2v1h-2zM323 308h1v1h-1zM328 308h1v1h-1zM317 309h13v1h-13zM316 310h2v1h-2zM320 310h1v1h-1zM324 310h1v1h-1zM316 311h2v1h-2zM320 311h1v1h-1zM325 311h1v1h-1zM315 312h12v1h-12zM314 313h2v1h-2zM317 313h1v1h-1zM321 313h1v1h-1zM313 314h2v1h-2zM318 314h1v1h-1zM322 314h1v1h-1zM312 315h12v1h-12zM312 316h3v1h-3zM319 316h1v1h-1zM311 317h2v1h-2zM315 317h1v1h-1zM319 317h1v1h-1zM310 318h3v1h-3zM315 318h1v1h-1zM320 318h1v1h-1zM310 319h12v1h-12zM309 320h1v1h-1zM313 320h1v1h-1zM316 320h1v1h-1zM308 321h2v1h-2zM313 321h1v1h-1zM317 321h1v1h-1zM307 322h12v1h-12zM307 323h1v1h-1zM309 323h1v1h-1zM314 323h1v1h-1zM305 324h3v1h-3zM310 324h1v1h-1zM315 324h1v1h-1zM304 325h1v1h-1zM306 325h11v1h-11zM304 326h3v1h-3zM311 326h1v1h-1zM303 327h2v1h-2zM307 327h1v1h-1zM311 327h1v1h-1zM302 328h3v1h-3zM307 328h1v1h-1zM312 328h1v1h-1zM302 329h12v1h-12zM300 330h2v1h-2zM305 330h1v1h-1zM308 330h1v1h-1zM299 331h1v1h-1zM301 331h1v1h-1zM305 331h1v1h-1zM309 331h1v1h-1zM299 332h12v1h-12zM298 333h2v1h-2zM302 333h1v1h-1zM306 333h1v1h-1zM297 334h3v1h-3zM302 334h1v1h-1zM307 334h1v1h-1zM297 335h12v1h-12zM295 336h2v1h-2zM300 336h1v1h-1zM303 336h1v1h-1zM294 337h1v1h-1zM296 337h1v1h-1zM300 337h1v1h-1zM304 337h1v1h-1zM294 338h12v1h-12zM293 339h2v1h-2zM297 339h1v1h-1zM301 339h1v1h-1zM292 340h3v1h-3zM297 340h1v1h-1zM302 340h1v1h-1zM292 341h12v1h-12zM290 342h2v1h-2zM295 342h1v1h-1zM298 342h1v1h-1zM289 343h1v1h-1zM291 343h1v1h-1zM295 343h1v1h-1zM299 343h1v1h-1zM289 344h12v1h-12zM287 345h3v1h-3zM292 345h1v1h-1zM296 345h1v1h-1zM286 346h1v1h-1zM288 346h2v1h-2zM292 346h1v1h-1zM297 346h1v1h-1zM285 347h14v1h-14zM284 348h3v1h-3zM289 348h1v1h-1zM293 348h1v1h-1zM284 349h3v1h-3zM289 349h1v1h-1zM294 349h1v1h-1zM282 350h14v1h-14zM281 351h1v1h-1zM283 351h1v1h-1zM287 351h1v1h-1zM290 351h1v1h-1zM280 352h4v1h-4zM288 352h1v1h-1zM291 352h1v1h-1zM279 353h14v1h-14zM279 354h3v1h-3zM284 354h1v1h-1zM289 354h1v1h-1zM277 355h14v1h-14zM276 356h1v1h-1zM278 356h1v1h-1zM282 356h1v1h-1zM285 356h1v1h-1zM276 357h3v1h-3zM283 357h1v1h-1zM286 357h1v1h-1zM274 358h14v1h-14zM273 359h1v1h-1zM275 359h2v1h-2zM279 359h1v1h-1zM284 359h1v1h-1zM272 360h14v1h-14zM271 361h3v1h-3zM276 361h1v1h-1zM280 361h1v1h-1zM271 362h3v1h-3zM276 362h1v1h-1zM281 362h1v1h-1zM269 363h14v1h-14zM268 364h1v1h-1zM270 364h1v1h-1zM274 364h1v1h-1zM277 364h1v1h-1zM267 365h4v1h-4zM275 365h1v1h-1zM278 365h1v1h-1zM266 366h14v1h-14zM266 367h3v1h-3zM271 367h1v1h-1zM276 367h1v1h-1zM264 368h14v1h-14zM263 369h1v1h-1zM265 369h1v1h-1zM269 369h1v1h-1zM272 369h1v1h-1zM261 370h1v1h-1zM263 370h3v1h-3zM270 370h1v1h-1zM273 370h1v1h-1zM260 371h1v1h-1zM262 371h13v1h-13zM260 372h1v1h-1zM262 372h2v1h-2zM266 372h1v1h-1zM271 372h1v1h-1zM241 373h1v1h-1zM243 373h1v1h-1zM259 373h1v1h-1zM261 373h12v1h-12zM238 374h1v1h-1zM240 374h1v1h-1zM242 374h1v1h-1zM244 374h1v1h-1zM258 374h3v1h-3zM263 374h1v1h-1zM267 374h1v1h-1zM237 375h1v1h-1zM239 375h2v1h-2zM242 375h1v1h-1zM244 375h1v1h-1zM246 375h1v1h-1zM256 375h1v1h-1zM258 375h1v1h-1zM260 375h1v1h-1zM264 375h1v1h-1zM268 375h1v1h-1zM237 376h1v1h-1zM239 376h1v1h-1zM241 376h1v1h-1zM243 376h1v1h-1zM245 376h1v1h-1zM247 376h1v1h-1zM255 376h1v1h-1zM257 376h1v1h-1zM259 376h11v1h-11zM236 377h1v1h-1zM239 377h3v1h-3zM243 377h1v1h-1zM245 377h1v1h-1zM247 377h2v1h-2zM254 377h2v1h-2zM257 377h1v1h-1zM261 377h1v1h-1zM265 377h1v1h-1zM235 378h2v1h-2zM238 378h1v1h-1zM240 378h1v1h-1zM244 378h1v1h-1zM246 378h4v1h-4zM251 378h1v1h-1zM253 378h14v1h-14zM234 379h4v1h-4zM239 379h1v1h-1zM241 379h1v1h-1zM244 379h1v1h-1zM246 379h5v1h-5zM252 379h4v1h-4zM258 379h1v1h-1zM262 379h1v1h-1zM234 380h1v1h-1zM236 380h2v1h-2zM239 380h1v1h-1zM241 380h1v1h-1zM243 380h1v1h-1zM245 380h3v1h-3zM249 380h2v1h-2zM252 380h2v1h-2zM255 380h2v1h-2zM259 380h1v1h-1zM263 380h1v1h-1zM137 381h1v1h-1zM233 381h2v1h-2zM236 381h15v1h-15zM252 381h13v1h-13zM136 382h1v1h-1zM138 382h1v1h-1zM233 382h11v1h-11zM245 382h1v1h-1zM249 382h5v1h-5zM257 382h1v1h-1zM260 382h1v1h-1zM136 383h1v1h-1zM138 383h1v1h-1zM232 383h2v1h-2zM238 383h1v1h-1zM241 383h21v1h-21zM135 384h1v1h-1zM139 384h1v1h-1zM231 384h2v1h-2zM234 384h1v1h-1zM238 384h1v1h-1zM244 384h1v1h-1zM247 384h1v1h-1zM250 384h1v1h-1zM252 384h1v1h-1zM254 384h1v1h-1zM258 384h1v1h-1zM135 385h1v1h-1zM139 385h1v1h-1zM231 385h2v1h-2zM234 385h1v1h-1zM239 385h1v1h-1zM243 385h17v1h-17zM134 386h1v1h-1zM140 386h1v1h-1zM230 386h11v1h-11zM246 386h11v1h-11zM133 387h1v1h-1zM140 387h1v1h-1zM230 387h2v1h-2zM235 387h1v1h-1zM133 388h1v1h-1zM141 388h1v1h-1zM229 388h3v1h-3zM236 388h1v1h-1zM132 389h11v1h-11zM229 389h1v1h-1zM231 389h1v1h-1zM236 389h1v1h-1zM228 390h2v1h-2zM232 390h1v1h-1zM237 390h1v1h-1zM228 391h11v1h-11zM227 392h1v1h-1zM229 392h1v1h-1zM233 392h1v1h-1zM225 393h3v1h-3zM229 393h1v1h-1zM233 393h1v1h-1zM224 394h1v1h-1zM226 394h1v1h-1zM230 394h1v1h-1zM234 394h1v1h-1zM224 395h12v1h-12zM222 396h2v1h-2zM225 396h1v1h-1zM227 396h1v1h-1zM231 396h1v1h-1zM221 397h1v1h-1zM223 397h2v1h-2zM227 397h1v1h-1zM231 397h1v1h-1zM220 398h5v1h-5zM228 398h1v1h-1zM232 398h1v1h-1zM219 399h3v1h-3zM223 399h11v1h-11zM217 400h1v1h-1zM219 400h3v1h-3zM224 400h1v1h-1zM229 400h1v1h-1zM216 401h1v1h-1zM218 401h13v1h-13zM139 402h1v1h-1zM215 402h2v1h-2zM218 402h1v1h-1zM222 402h1v1h-1zM225 402h1v1h-1zM138 403h1v1h-1zM140 403h1v1h-1zM214 403h6v1h-6zM223 403h1v1h-1zM226 403h1v1h-1zM138 404h1v1h-1zM140 404h1v1h-1zM212 404h1v1h-1zM214 404h14v1h-14zM137 405h1v1h-1zM141 405h1v1h-1zM211 405h1v1h-1zM213 405h2v1h-2zM216 405h2v1h-2zM220 405h1v1h-1zM224 405h1v1h-1zM137 406h1v1h-1zM141 406h1v1h-1zM209 406h1v1h-1zM211 406h1v1h-1zM213 406h1v1h-1zM215 406h11v1h-11zM136 407h1v1h-1zM142 407h1v1h-1zM207 407h2v1h-2zM210 407h1v1h-1zM212 407h3v1h-3zM218 407h1v1h-1zM221 407h1v1h-1zM135 408h1v1h-1zM142 408h1v1h-1zM206 408h1v1h-1zM208 408h1v1h-1zM210 408h13v1h-13zM135 409h1v1h-1zM143 409h1v1h-1zM204 409h1v1h-1zM206 409h4v1h-4zM211 409h1v1h-1zM215 409h1v1h-1zM219 409h1v1h-1zM134 410h11v1h-11zM202 410h2v1h-2zM205 410h1v1h-1zM207 410h14v1h-14zM142 411h1v1h-1zM199 411h1v1h-1zM201 411h1v1h-1zM203 411h1v1h-1zM205 411h2v1h-2zM208 411h2v1h-2zM212 411h1v1h-1zM216 411h1v1h-1zM141 412h1v1h-1zM143 412h1v1h-1zM198 412h1v1h-1zM200 412h18v1h-18zM141 413h1v1h-1zM143 413h1v1h-1zM196 413h1v1h-1zM198 413h1v1h-1zM200 413h1v1h-1zM202 413h5v1h-5zM210 413h1v1h-1zM213 413h1v1h-1zM140 414h1v1h-1zM144 414h1v1h-1zM194 414h2v1h-2zM197 414h1v1h-1zM200 414h2v1h-2zM203 414h12v1h-12zM140 415h1v1h-1zM144 415h2v1h-2zM191 415h1v1h-1zM193 415h1v1h-1zM195 415h1v1h-1zM197 415h1v1h-1zM199 415h14v1h-14zM139 416h1v1h-1zM144 416h3v1h-3zM189 416h2v1h-2zM192 416h5v1h-5zM198 416h1v1h-1zM200 416h1v1h-1zM202 416h1v1h-1zM205 416h1v1h-1zM208 416h1v1h-1zM138 417h1v1h-1zM144 417h4v1h-4zM184 417h1v1h-1zM186 417h1v1h-1zM188 417h1v1h-1zM190 417h1v1h-1zM192 417h1v1h-1zM194 417h3v1h-3zM198 417h12v1h-12zM138 418h1v1h-1zM143 418h1v1h-1zM146 418h3v1h-3zM178 418h1v1h-1zM181 418h1v1h-1zM183 418h1v1h-1zM185 418h1v1h-1zM187 418h4v1h-4zM192 418h2v1h-2zM195 418h13v1h-13zM137 419h12v1h-12zM150 419h1v1h-1zM173 419h1v1h-1zM176 419h2v1h-2zM179 419h2v1h-2zM182 419h2v1h-2zM185 419h1v1h-1zM187 419h1v1h-1zM189 419h1v1h-1zM191 419h14v1h-14zM142 420h1v1h-1zM145 420h1v1h-1zM148 420h2v1h-2zM151 420h2v1h-2zM155 420h1v1h-1zM171 420h2v1h-2zM174 420h2v1h-2zM177 420h1v1h-1zM179 420h2v1h-2zM182 420h1v1h-1zM184 420h1v1h-1zM186 420h3v1h-3zM190 420h3v1h-3zM194 420h1v1h-1zM197 420h1v1h-1zM200 420h1v1h-1zM141 421h1v1h-1zM145 421h1v1h-1zM148 421h2v1h-2zM151 421h1v1h-1zM153 421h2v1h-2zM156 421h1v1h-1zM158 421h1v1h-1zM160 421h1v1h-1zM163 421h1v1h-1zM165 421h1v1h-1zM168 421h1v1h-1zM170 421h1v1h-1zM172 421h1v1h-1zM174 421h4v1h-4zM179 421h2v1h-2zM182 421h3v1h-3zM186 421h3v1h-3zM190 421h12v1h-12zM141 422h1v1h-1zM144 422h1v1h-1zM148 422h7v1h-7zM156 422h2v1h-2zM159 422h1v1h-1zM161 422h2v1h-2zM164 422h1v1h-1zM166 422h2v1h-2zM169 422h4v1h-4zM174 422h3v1h-3zM178 422h4v1h-4zM183 422h1v1h-1zM185 422h1v1h-1zM187 422h1v1h-1zM189 422h11v1h-11zM140 423h11v1h-11zM152 423h3v1h-3zM157 423h1v1h-1zM159 423h1v1h-1zM161 423h2v1h-2zM164 423h1v1h-1zM166 423h2v1h-2zM169 423h1v1h-1zM171 423h1v1h-1zM173 423h3v1h-3zM178 423h1v1h-1zM180 423h3v1h-3zM184 423h13v1h-13zM143 424h1v1h-1zM147 424h1v1h-1zM150 424h2v1h-2zM153 424h2v1h-2zM156 424h3v1h-3zM160 424h4v1h-4zM165 424h3v1h-3zM169 424h2v1h-2zM173 424h2v1h-2zM176 424h2v1h-2zM179 424h4v1h-4zM184 424h11v1h-11zM142 425h12v1h-12zM155 425h2v1h-2zM158 425h1v1h-1zM160 425h4v1h-4zM165 425h6v1h-6zM172 425h1v1h-1zM174 425h1v1h-1zM176 425h2v1h-2zM179 425h13v1h-13zM146 426h1v1h-1zM148 426h1v1h-1zM151 426h1v1h-1zM154 426h2v1h-2zM157 426h2v1h-2zM160 426h4v1h-4zM165 426h5v1h-5zM171 426h16v1h-16zM145 427h12v1h-12zM159 427h1v1h-1zM161 427h1v1h-1zM163 427h2v1h-2zM166 427h16v1h-16zM147 428h16v1h-16zM164 428h1v1h-1zM166 428h11v1h-11zM153 429h21v1h-21z"/>
</g>
<g fill="#000">
<rect x="711.4" y="1007.5" width="6.4" height="340"/>
<path d="M702 1322H727V1335H724V1347H721V1356H718V1366H711V1356H708V1347H705V1335H702Z"/>
<rect x="1003.8" y="1197.5" width="6.4" height="150"/>
<path d="M994.5 1332H997.7V1329H1016.4V1341H1013.2V1351H1010V1366H1001V1351H997.7V1338H994.5Z"/>
</g>
<g transform="translate(1.6 0.2) scale(3.19 3.112)">
<path fill="#000" d="M627 327h2v1h-2zM624 328h5v1h-5zM621 329h7v1h-7zM619 330h6v1h-6zM616 331h6v1h-6zM613 332h7v1h-7zM610 333h7v1h-7zM607 334h7v1h-7zM605 335h6v1h-6zM602 336h6v1h-6zM599 337h7v1h-7zM596 338h7v1h-7zM593 339h7v1h-7zM591 340h6v1h-6zM588 341h6v1h-6zM585 342h7v1h-7zM582 343h7v1h-7zM579 344h7v1h-7zM577 345h6v1h-6zM574 346h6v1h-6zM571 347h7v1h-7zM568 348h7v1h-7zM565 349h7v1h-7zM562 350h7v1h-7zM560 351h6v1h-6zM557 352h6v1h-6zM554 353h7v1h-7zM551 354h7v1h-7zM548 355h7v1h-7zM546 356h6v1h-6zM543 357h6v1h-6zM540 358h7v1h-7zM537 359h7v1h-7zM534 360h7v1h-7zM532 361h6v1h-6zM529 362h6v1h-6zM526 363h7v1h-7zM523 364h7v1h-7zM520 365h7v1h-7zM518 366h6v1h-6zM515 367h6v1h-6zM512 368h7v1h-7zM509 369h7v1h-7zM506 370h7v1h-7zM504 371h6v1h-6zM501 372h6v1h-6zM498 373h7v1h-7zM495 374h7v1h-7zM492 375h7v1h-7zM489 376h7v1h-7zM487 377h6v1h-6zM484 378h6v1h-6zM481 379h7v1h-7zM478 380h7v1h-7zM475 381h7v1h-7zM473 382h6v1h-6zM470 383h6v1h-6zM467 384h7v1h-7zM464 385h7v1h-7zM461 386h7v1h-7zM459 387h6v1h-6zM456 388h6v1h-6zM453 389h7v1h-7zM450 390h7v1h-7zM447 391h7v1h-7zM445 392h6v1h-6zM442 393h6v1h-6zM439 394h7v1h-7zM436 395h7v1h-7zM433 396h7v1h-7zM431 397h6v1h-6zM428 398h6v1h-6zM425 399h6v1h-6zM422 400h7v1h-7zM419 401h7v1h-7zM416 402h7v1h-7zM414 403h6v1h-6zM411 404h6v1h-6zM408 405h7v1h-7zM405 406h7v1h-7zM402 407h7v1h-7zM400 408h6v1h-6zM397 409h6v1h-6zM394 410h7v1h-7zM391 411h7v1h-7zM388 412h7v1h-7zM386 413h6v1h-6zM383 414h6v1h-6zM380 415h7v1h-7zM377 416h7v1h-7zM374 417h7v1h-7zM372 418h6v1h-6zM369 419h6v1h-6zM366 420h7v1h-7zM363 421h7v1h-7zM360 422h7v1h-7zM358 423h6v1h-6zM355 424h6v1h-6zM352 425h6v1h-6zM349 426h7v1h-7zM346 427h7v1h-7zM343 428h7v1h-7zM341 429h6v1h-6zM338 430h6v1h-6zM335 431h7v1h-7zM332 432h7v1h-7zM329 433h7v1h-7zM327 434h6v1h-6zM324 435h6v1h-6zM321 436h7v1h-7zM318 437h7v1h-7zM315 438h7v1h-7z"/>
<path fill="#f00" d="M543 18h3v1h-3zM542 19h3v1h-3zM541 20h3v1h-3zM540 21h4v1h-4zM540 22h3v1h-3zM539 23h3v1h-3zM538 24h3v1h-3zM537 25h4v1h-4zM537 26h3v1h-3zM536 27h3v1h-3zM535 28h3v1h-3zM534 29h3v1h-3zM534 30h3v1h-3zM533 31h3v1h-3zM532 32h3v1h-3zM531 33h3v1h-3zM531 34h3v1h-3zM530 35h3v1h-3zM529 36h3v1h-3zM528 37h3v1h-3zM528 38h3v1h-3zM527 39h3v1h-3zM526 40h3v1h-3zM525 41h3v1h-3zM525 42h3v1h-3zM524 43h3v1h-3zM523 44h3v1h-3zM522 45h3v1h-3zM521 46h4v1h-4zM521 47h3v1h-3zM520 48h3v1h-3zM519 49h3v1h-3zM518 50h4v1h-4zM518 51h3v1h-3zM517 52h3v1h-3zM516 53h3v1h-3zM515 54h3v1h-3zM515 55h3v1h-3zM514 56h3v1h-3zM513 57h3v1h-3zM512 58h3v1h-3zM512 59h3v1h-3zM511 60h3v1h-3zM510 61h3v1h-3zM509 62h3v1h-3zM509 63h3v1h-3zM508 64h3v1h-3zM507 65h3v1h-3zM506 66h3v1h-3zM506 67h3v1h-3zM505 68h3v1h-3zM504 69h3v1h-3zM503 70h3v1h-3zM502 71h4v1h-4zM502 72h3v1h-3zM501 73h3v1h-3zM500 74h3v1h-3zM499 75h4v1h-4zM499 76h3v1h-3zM498 77h3v1h-3zM497 78h3v1h-3zM496 79h3v1h-3zM496 80h3v1h-3zM495 81h3v1h-3zM494 82h3v1h-3zM493 83h3v1h-3zM493 84h3v1h-3zM492 85h3v1h-3zM491 86h3v1h-3zM490 87h3v1h-3zM490 88h3v1h-3zM489 89h3v1h-3zM488 90h3v1h-3zM487 91h3v1h-3zM487 92h3v1h-3zM486 93h3v1h-3zM485 94h3v1h-3zM484 95h3v1h-3zM483 96h4v1h-4zM483 97h3v1h-3zM482 98h3v1h-3zM481 99h3v1h-3zM480 100h4v1h-4zM480 101h3v1h-3zM479 102h3v1h-3zM478 103h3v1h-3zM477 104h4v1h-4zM477 105h3v1h-3zM476 106h3v1h-3zM475 107h3v1h-3zM474 108h3v1h-3zM474 109h3v1h-3zM473 110h3v1h-3zM472 111h3v1h-3zM471 112h3v1h-3zM471 113h3v1h-3zM470 114h3v1h-3zM469 115h3v1h-3zM468 116h3v1h-3zM468 117h3v1h-3zM467 118h3v1h-3zM466 119h3v1h-3zM465 120h3v1h-3zM464 121h4v1h-4zM464 122h3v1h-3zM463 123h3v1h-3zM462 124h3v1h-3zM461 125h4v1h-4zM461 126h3v1h-3zM460 127h3v1h-3zM459 128h3v1h-3zM458 129h4v1h-4zM458 130h3v1h-3zM457 131h3v1h-3zM456 132h3v1h-3zM455 133h3v1h-3zM455 134h3v1h-3zM454 135h3v1h-3zM453 136h3v1h-3zM452 137h3v1h-3zM452 138h3v1h-3zM451 139h3v1h-3zM450 140h3v1h-3zM449 141h3v1h-3zM449 142h3v1h-3zM448 143h3v1h-3zM447 144h3v1h-3zM446 145h3v1h-3zM445 146h4v1h-4zM445 147h3v1h-3zM444 148h3v1h-3zM443 149h3v1h-3zM442 150h4v1h-4zM442 151h3v1h-3zM441 152h3v1h-3zM440 153h3v1h-3zM439 154h4v1h-4zM439 155h3v1h-3zM438 156h3v1h-3zM437 157h3v1h-3zM436 158h3v1h-3zM436 159h3v1h-3zM435 160h3v1h-3zM434 161h3v1h-3zM433 162h3v1h-3zM433 163h3v1h-3zM432 164h3v1h-3zM431 165h3v1h-3zM430 166h3v1h-3zM430 167h3v1h-3zM429 168h3v1h-3zM428 169h3v1h-3zM427 170h3v1h-3zM426 171h4v1h-4zM426 172h3v1h-3zM425 173h3v1h-3zM424 174h3v1h-3zM423 175h4v1h-4zM423 176h3v1h-3zM422 177h3v1h-3zM421 178h3v1h-3zM420 179h4v1h-4zM420 180h3v1h-3zM419 181h3v1h-3zM418 182h3v1h-3zM417 183h3v1h-3zM417 184h3v1h-3zM416 185h3v1h-3zM415 186h3v1h-3zM414 187h3v1h-3zM414 188h3v1h-3zM413 189h3v1h-3zM412 190h3v1h-3zM411 191h3v1h-3zM411 192h3v1h-3zM410 193h3v1h-3zM409 194h3v1h-3zM408 195h3v1h-3zM407 196h4v1h-4zM407 197h3v1h-3zM406 198h3v1h-3zM405 199h3v1h-3zM404 200h4v1h-4zM404 201h3v1h-3zM403 202h3v1h-3zM402 203h3v1h-3zM401 204h4v1h-4zM401 205h3v1h-3zM400 206h3v1h-3zM399 207h3v1h-3zM398 208h3v1h-3zM398 209h3v1h-3zM397 210h3v1h-3zM396 211h3v1h-3zM395 212h3v1h-3zM395 213h3v1h-3zM394 214h3v1h-3zM393 215h3v1h-3zM392 216h3v1h-3zM392 217h3v1h-3zM391 218h3v1h-3zM390 219h3v1h-3zM389 220h3v1h-3zM388 221h4v1h-4zM388 222h3v1h-3zM387 223h3v1h-3zM386 224h3v1h-3zM385 225h4v1h-4zM385 226h3v1h-3zM384 227h3v1h-3zM383 228h3v1h-3zM382 229h4v1h-4zM382 230h3v1h-3zM381 231h3v1h-3zM380 232h3v1h-3zM379 233h3v1h-3zM379 234h3v1h-3zM378 235h3v1h-3zM377 236h3v1h-3zM376 237h3v1h-3zM376 238h3v1h-3zM375 239h3v1h-3zM374 240h3v1h-3zM373 241h3v1h-3zM373 242h3v1h-3zM372 243h3v1h-3zM371 244h3v1h-3zM370 245h3v1h-3zM370 246h3v1h-3zM369 247h3v1h-3zM368 248h3v1h-3zM367 249h3v1h-3zM366 250h4v1h-4zM366 251h3v1h-3zM365 252h3v1h-3zM364 253h3v1h-3zM363 254h4v1h-4zM363 255h3v1h-3zM362 256h3v1h-3zM361 257h3v1h-3zM360 258h3v1h-3zM360 259h3v1h-3zM359 260h3v1h-3zM358 261h3v1h-3zM357 262h3v1h-3zM357 263h3v1h-3zM356 264h3v1h-3zM355 265h3v1h-3zM354 266h3v1h-3zM354 267h3v1h-3zM353 268h3v1h-3zM352 269h3v1h-3zM351 270h3v1h-3zM351 271h3v1h-3zM350 272h3v1h-3zM349 273h3v1h-3zM348 274h3v1h-3zM347 275h4v1h-4zM347 276h3v1h-3zM346 277h3v1h-3zM345 278h3v1h-3zM344 279h4v1h-4zM344 280h3v1h-3zM343 281h3v1h-3zM342 282h3v1h-3zM341 283h3v1h-3zM341 284h3v1h-3zM340 285h3v1h-3zM339 286h3v1h-3zM338 287h3v1h-3zM338 288h3v1h-3zM337 289h3v1h-3zM336 290h3v1h-3zM335 291h3v1h-3zM335 292h3v1h-3zM334 293h3v1h-3zM333 294h3v1h-3zM332 295h3v1h-3zM332 296h3v1h-3zM331 297h3v1h-3zM330 298h3v1h-3zM329 299h3v1h-3zM328 300h4v1h-4zM328 301h3v1h-3zM327 302h3v1h-3zM326 303h3v1h-3zM325 304h4v1h-4zM325 305h3v1h-3zM324 306h3v1h-3zM323 307h3v1h-3zM322 308h3v1h-3zM322 309h3v1h-3zM321 310h3v1h-3zM320 311h3v1h-3zM319 312h3v1h-3zM319 313h3v1h-3zM318 314h3v1h-3zM317 315h3v1h-3zM316 316h3v1h-3zM316 317h3v1h-3zM315 318h3v1h-3zM314 319h3v1h-3zM313 320h3v1h-3zM313 321h3v1h-3zM312 322h3v1h-3zM311 323h3v1h-3zM310 324h3v1h-3zM309 325h4v1h-4zM309 326h3v1h-3zM308 327h3v1h-3zM307 328h3v1h-3zM306 329h4v1h-4zM306 330h3v1h-3zM305 331h3v1h-3zM304 332h3v1h-3zM303 333h3v1h-3zM303 334h3v1h-3zM302 335h3v1h-3zM301 336h3v1h-3zM300 337h3v1h-3zM300 338h3v1h-3zM299 339h3v1h-3zM298 340h3v1h-3zM297 341h3v1h-3zM297 342h3v1h-3zM296 343h3v1h-3zM295 344h3v1h-3zM294 345h3v1h-3zM294 346h3v1h-3zM293 347h3v1h-3zM292 348h3v1h-3zM291 349h3v1h-3zM290 350h4v1h-4zM290 351h3v1h-3zM289 352h3v1h-3zM288 353h3v1h-3zM287 354h4v1h-4zM287 355h3v1h-3zM286 356h3v1h-3zM285 357h3v1h-3zM284 358h3v1h-3zM284 359h3v1h-3zM283 360h3v1h-3zM282 361h3v1h-3zM281 362h3v1h-3zM281 363h3v1h-3zM280 364h3v1h-3zM279 365h3v1h-3zM278 366h3v1h-3zM278 367h3v1h-3zM277 368h3v1h-3zM276 369h3v1h-3zM275 370h3v1h-3zM275 371h3v1h-3zM274 372h3v1h-3zM273 373h3v1h-3zM272 374h3v1h-3zM271 375h4v1h-4zM271 376h3v1h-3zM270 377h3v1h-3zM269 378h3v1h-3zM268 379h4v1h-4zM268 380h3v1h-3zM267 381h3v1h-3zM266 382h3v1h-3zM265 383h4v1h-4zM265 384h3v1h-3zM264 385h3v1h-3zM263 386h3v1h-3zM262 387h3v1h-3zM262 388h3v1h-3zM261 389h3v1h-3zM260 390h3v1h-3zM259 391h3v1h-3zM259 392h3v1h-3zM258 393h3v1h-3zM257 394h3v1h-3zM256 395h3v1h-3zM256 396h3v1h-3zM255 397h3v1h-3zM254 398h3v1h-3zM253 399h3v1h-3zM252 400h4v1h-4zM252 401h3v1h-3zM251 402h3v1h-3zM250 403h3v1h-3zM249 404h4v1h-4zM249 405h3v1h-3zM248 406h3v1h-3zM247 407h3v1h-3zM246 408h4v1h-4zM246 409h3v1h-3zM245 410h3v1h-3zM244 411h3v1h-3zM243 412h3v1h-3zM243 413h3v1h-3zM242 414h3v1h-3zM241 415h3v1h-3zM240 416h3v1h-3zM240 417h3v1h-3zM239 418h3v1h-3zM238 419h3v1h-3zM237 420h3v1h-3zM237 421h3v1h-3zM236 422h3v1h-3zM235 423h3v1h-3zM234 424h3v1h-3zM233 425h4v1h-4zM233 426h3v1h-3zM232 427h3v1h-3zM231 428h3v1h-3zM230 429h4v1h-4zM230 430h3v1h-3zM229 431h3v1h-3zM228 432h3v1h-3zM227 433h4v1h-4zM227 434h3v1h-3zM226 435h3v1h-3zM225 436h3v1h-3zM224 437h3v1h-3zM224 438h3v1h-3z"/>
</g>
<path fill="#000" d="M486 131H492V134H486zM486 134H492V137H486zM483 137H486V140H483zM492 137H495V140H492zM480 140H483V144H480zM492 140H495V144H492zM480 144H483V147H480zM495 144H498V147H495zM476 147H480V150H476zM498 147H502V150H498zM476 150H480V153H476zM498 150H502V153H498zM473 153H476V156H473zM502 153H505V156H502zM473 156H505V159H473z"/>
<path fill="#f00" d="M486 263H492V266H486zM486 266H492V269H486zM483 269H486V272H483zM492 269H495V272H492zM480 272H483V275H480zM492 272H495V275H492zM480 275H483V278H480zM495 275H498V278H495zM476 278H480V281H476zM498 278H502V281H498zM476 281H480V284H476zM498 281H502V284H498zM473 284H476V287H473zM502 284H505V287H502zM473 287H505V291H473z"/>
</g>
<g id="labels">
<text transform="translate(231.53 77.40) scale(0.9814 1.0000)" font-size="84">20</text>
<text transform="translate(240.78 405.75) scale(0.8813 1.0000)" font-size="84">15</text>
<text transform="translate(240.88 734.10) scale(0.8777 1.0000)" font-size="84">10</text>
<text transform="translate(279.99 1062.45) scale(0.9275 1.0000)" font-size="84">5</text>
<text transform="translate(280.00 1390.80) scale(0.9217 1.0000)" font-size="84">0</text>
<text transform="translate(248.10 1449.39) scale(0.9554 0.5842)" font-size="87">–</text>
<text transform="translate(296.48 1462.20) scale(1.0108 1.0000)" font-size="87">1.5</text>
<text transform="translate(658.10 1452.59) scale(0.9554 0.5842)" font-size="87">–</text>
<text transform="translate(713.40 1462.20) scale(0.9795 1.0000)" font-size="87">1.0</text>
<text transform="translate(1064.50 1452.59) scale(0.9679 0.5842)" font-size="87">–</text>
<text transform="translate(1121.88 1462.20) scale(1.0211 1.0000)" font-size="87">0.5</text>
<text transform="translate(1573.24 1459.20) scale(1.0323 1.0000)" font-size="87">0</text>
<text transform="translate(1951.38 1462.20) scale(1.0202 1.0000)" font-size="87">0.5</text>
<text transform="translate(558.70 1622.30) scale(0.9795 1.0000)" font-size="116.5">Potential (V vs. Ag/AgCl)</text>
<text transform="translate(120.30 1038.14) rotate(-90) scale(0.9104 1.0000)" font-size="118.5">1/C</text>
<text transform="translate(66.00 871.60) rotate(-90) scale(0.9528 1.0000)" font-size="67">2</text>
<text transform="translate(161.00 836.67) rotate(-90) scale(1.0379 1.0000)" font-size="67">int</text>
<text transform="translate(120.30 762.00) rotate(-90) scale(0.9385 1.0000)" font-size="118.5">(x</text>
<text transform="translate(120.30 661.73) rotate(-90) scale(0.8678 1.0000)" font-size="118.5">10</text>
<text transform="translate(66.00 546.95) rotate(-90) scale(0.9839 1.0000)" font-size="67">9</text>
<text transform="translate(120.30 490.24) rotate(-90) scale(0.9379 1.0000)" font-size="118.5">F</text>
<text transform="translate(61.19 420.50) rotate(-90) scale(0.8859 0.7586)" font-size="67">–</text>
<text transform="translate(66.00 387.33) rotate(-90) scale(0.9951 1.0000)" font-size="67">2</text>
<text transform="translate(120.30 343.10) rotate(-90) scale(0.8063 1.0000)" font-size="118.5">)</text>
<text transform="translate(607.65 177.20) scale(1.0268 1.0000)" font-size="89.5">TiO</text>
<text transform="translate(747.26 205.50) scale(1.0947 1.0000)" font-size="52">2</text>
<text transform="translate(609.26 309.00) scale(0.9964 1.0000)" font-size="89.5">g-C</text>
<text transform="translate(752.48 337.00) scale(1.0101 1.0000)" font-size="52">3</text>
<text transform="translate(780.11 309.00) scale(1.0200 1.0000)" font-size="89.5">N</text>
<text transform="translate(844.29 337.00) scale(0.9714 1.0000)" font-size="52">4</text>
<text transform="translate(463.08 1006.50) scale(0.9624 1.0000)" font-size="91" fill="#f00">E</text>
<text transform="translate(521.74 1034.50) scale(1.0191 1.0000)" font-size="50.5" fill="#f00">fb</text>
<text transform="translate(590.11 1006.50) scale(0.9763 1.0000)" font-size="91" fill="#f00">=</text>
<text transform="translate(664.00 996.95) scale(0.9149 0.5914)" font-size="91" fill="#f00">–</text>
<text transform="translate(742.02 1006.50) scale(0.9508 1.0000)" font-size="91" fill="#f00">1.1 V</text>
<text transform="translate(977.88 1181.50) scale(0.9888 1.0000)" font-size="91">E</text>
<text transform="translate(1039.79 1212.50) scale(0.9427 1.0000)" font-size="50.5">fb</text>
<text transform="translate(1104.56 1181.50) scale(0.9876 1.0000)" font-size="91">=</text>
<text transform="translate(1182.30 1171.95) scale(0.9089 0.5914)" font-size="91">–</text>
<text transform="translate(1255.04 1181.50) scale(0.9894 1.0000)" font-size="91">0.7 V</text>
</g>
</svg></body></html>
